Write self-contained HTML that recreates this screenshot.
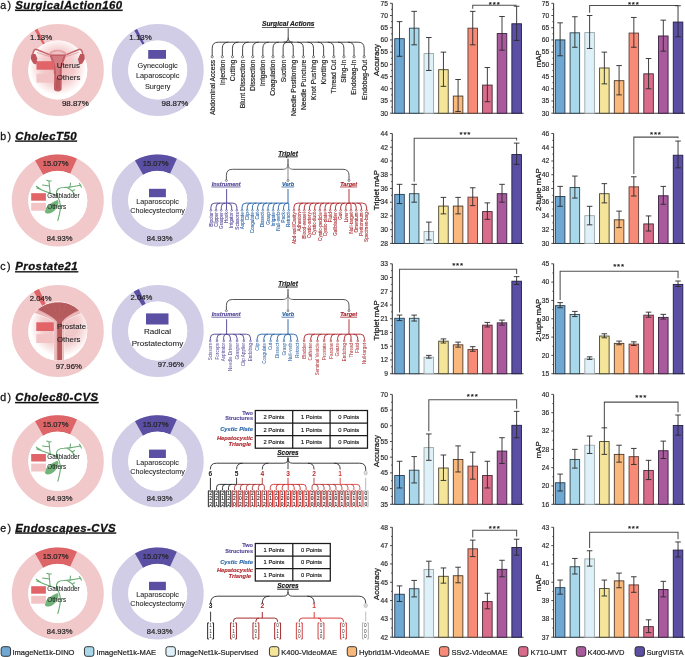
<!DOCTYPE html>
<html><head><meta charset="utf-8"><style>
html,body{margin:0;padding:0;background:#fff;width:685px;height:657px;overflow:hidden}
svg{display:block;will-change:transform;font-family:"Liberation Sans", sans-serif}
</style></head><body>
<svg width="685" height="657" viewBox="0 0 685 657">
<rect width="685" height="657" fill="#fff"/>
<text x="0.3" y="8.8" font-size="10.6" fill="#111" stroke="#111" stroke-width="0.27" letter-spacing="1.3">a)</text>
<text x="15.2" y="8.8" font-size="11.4" fill="#111" stroke="#111" stroke-width="0.29" font-weight="bold" font-style="italic" text-decoration="underline" letter-spacing="0.47">SurgicalAction160</text>
<text x="0.3" y="139.6" font-size="10.6" fill="#111" stroke="#111" stroke-width="0.27" letter-spacing="1.3">b)</text>
<text x="15.2" y="139.6" font-size="11.4" fill="#111" stroke="#111" stroke-width="0.29" font-weight="bold" font-style="italic" text-decoration="underline" letter-spacing="0.47">CholecT50</text>
<text x="0.3" y="270.2" font-size="10.6" fill="#111" stroke="#111" stroke-width="0.27" letter-spacing="1.3">c)</text>
<text x="15.2" y="270.2" font-size="11.4" fill="#111" stroke="#111" stroke-width="0.29" font-weight="bold" font-style="italic" text-decoration="underline" letter-spacing="0.47">Prostate21</text>
<text x="0.3" y="401" font-size="10.6" fill="#111" stroke="#111" stroke-width="0.27" letter-spacing="1.3">d)</text>
<text x="15.2" y="401" font-size="11.4" fill="#111" stroke="#111" stroke-width="0.29" font-weight="bold" font-style="italic" text-decoration="underline" letter-spacing="0.47">Cholec80-CVS</text>
<text x="0.3" y="531.5" font-size="10.6" fill="#111" stroke="#111" stroke-width="0.27" letter-spacing="1.3">e)</text>
<text x="15.2" y="531.5" font-size="11.4" fill="#111" stroke="#111" stroke-width="0.29" font-weight="bold" font-style="italic" text-decoration="underline" letter-spacing="0.47">Endoscapes-CVS</text>
<defs><radialGradient id="rg" cx="50%" cy="45%" r="55%"><stop offset="0" stop-color="#efb6b8"/><stop offset="0.5" stop-color="#f5cccd"/><stop offset="0.88" stop-color="#fff"/><stop offset="1" stop-color="#fff"/></radialGradient><radialGradient id="rg2" cx="55%" cy="42%" r="58%"><stop offset="0" stop-color="#eebabc"/><stop offset="0.55" stop-color="#f4cfd0"/><stop offset="0.9" stop-color="#fff"/><stop offset="1" stop-color="#fff"/></radialGradient></defs>
<circle cx="57.8" cy="70" r="37.75" fill="none" stroke="#f2c9cb" stroke-width="16.5"/>
<path d="M34.66,30.24 A46,46 0 0 1 37.49,28.73 L44.78,43.53 A29.5,29.5 0 0 0 42.96,44.5 Z" fill="#dd6568"/>
<circle cx="57.8" cy="70" r="29.5" fill="url(#rg)"/>
<g transform="translate(57.8,70)">
<path d="M-8.5,-15.2 C-13,-16.8 -18,-19.8 -21.5,-20.6 C-24,-21 -25.2,-17.5 -24.8,-13.5 M8.5,-15.2 C13,-16.8 18,-19.8 21.5,-20.6 C24,-21 25.2,-17.5 24.8,-13.5" fill="none" stroke="#c2646a" stroke-width="1.5"/>
<path d="M-8.5,-13.6 C-12,-14.4 -17,-16.4 -20.8,-17.6 M8.5,-13.6 C12,-14.4 17,-16.4 20.8,-17.6" fill="none" stroke="#d58d91" stroke-width="0.7"/>
<path d="M-26.5,-15.5 L-22.5,-16.2 L-20,-10.5 L-21.5,-5.5 L-24.5,-6.5 L-27,-11 Z M26.5,-15.5 L22.5,-16.2 L20,-10.5 L21.5,-5.5 L24.5,-6.5 L27,-11 Z" fill="#bd555b"/>
<ellipse cx="-18.4" cy="-9.9" rx="2.7" ry="1.9" fill="#e6dcdc"/><ellipse cx="18" cy="-9" rx="2.7" ry="2" fill="#e6dcdc"/>
<path d="M-9,-15.2 C-8.2,-21.8 8.2,-21.8 8.8,-15.2 Z" fill="#e4a0a4"/>
<path d="M-6.5,-15.6 C-5.8,-19.6 5.8,-19.6 6.3,-15.6 Z" fill="#eec3c5"/>
<path d="M-8.6,-15.4 L8.6,-15.4 C6.5,-10 4.6,-5.5 4,-2 L3.8,19.5 C3,22 -3,22 -3.8,19.5 L-4,-2 C-4.6,-5.5 -6.5,-10 -8.6,-15.4 Z" fill="#c25e65"/>
<path d="M-5.8,-14 L5.8,-14 C4.4,-9.5 2.8,-5.5 2.2,-2.5 L1.6,8 L-1.6,8 L-2.2,-2.5 C-2.8,-5.5 -4.4,-9.5 -5.8,-14 Z" fill="#d47c82"/>
<path d="M-1.6,8 L1.6,8 L1.8,19 L-1.8,19 Z" fill="#b9575d"/>
</g>
<rect x="36.5" y="61.2" width="17.7" height="8.5" fill="#e06468"/>
<rect x="36.5" y="73.9" width="17.7" height="8.7" fill="#f2c4c6"/>
<text x="56.7" y="67.7" font-size="7.9" fill="#222" stroke="#222" stroke-width="0.08">Uterus</text>
<text x="56.7" y="80.4" font-size="7.9" fill="#222" stroke="#222" stroke-width="0.08">Others</text>
<text x="29.9" y="40" font-size="7.9" fill="#222" stroke="#222" stroke-width="0.2">1.13%</text>
<text x="61.9" y="106.1" font-size="7.95" fill="#222" stroke="#222" stroke-width="0.2">98.87%</text>
<circle cx="157.7" cy="70" r="37.75" fill="none" stroke="#d1cde6" stroke-width="16.5"/>
<path d="M134.22,30.45 A46,46 0 0 1 137.03,28.9 L144.45,43.65 A29.5,29.5 0 0 0 142.64,44.63 Z" fill="#5a4fa3"/>
<circle cx="157.7" cy="70" r="29.5" fill="#fff"/>
<rect x="148.2" y="50" width="17.8" height="8.8" fill="#5a4fa3"/>
<text x="157.7" y="67.6" font-size="7.3" fill="#222" stroke="#222" stroke-width="0.07" text-anchor="middle">Gynecologic</text>
<text x="157.7" y="78" font-size="7.3" fill="#222" stroke="#222" stroke-width="0.07" text-anchor="middle">Laparoscopic</text>
<text x="157.7" y="88.6" font-size="7.3" fill="#222" stroke="#222" stroke-width="0.07" text-anchor="middle">Surgery</text>
<text x="129.3" y="39.6" font-size="7.9" fill="#222" stroke="#222" stroke-width="0.2">1.13%</text>
<text x="161.5" y="106.1" font-size="7.95" fill="#222" stroke="#222" stroke-width="0.2">98.87%</text>
<circle cx="57.8" cy="200.5" r="37.75" fill="none" stroke="#f2c9cb" stroke-width="16.5"/>
<path d="M35.08,160.5 A46,46 0 0 1 76.95,158.68 L70.08,173.68 A29.5,29.5 0 0 0 43.23,174.85 Z" fill="#dd6568"/>
<circle cx="57.8" cy="200.5" r="29.5" fill="#fff"/>
<g transform="translate(57.8,200.5)" fill="none" stroke="#66aa70" stroke-width="1.05" stroke-linecap="round" stroke-linejoin="round">
<path d="M0,20 C1.5,15 2.8,9 2.6,5 C2.4,1.5 1.2,-1.5 -0.5,-4.5 C-1.6,-7 -1.4,-10 0.4,-11.5 C2,-12.8 4,-13 6,-13 C9,-13.2 12,-13.4 15.7,-14.1 L22.8,-15.2"/>
<path d="M12.2,-13.3 L12.7,-17.4 M22.8,-15.2 L21.6,-17 M22.8,-15.2 L23.6,-13.2 M9.8,-12.8 C12.5,-11.5 14.8,-9.5 16.6,-6.6 M14.6,-9.6 L16.8,-10.8"/>
<path d="M-0.6,-4.6 C-3,-6 -5,-6.8 -7.5,-7.2 C-11,-8.5 -16,-10.5 -21,-12.4 M-7.5,-7.2 C-8,-10 -8.3,-14 -8.8,-19.4 M-8.8,-19.4 L-11,-20.3 M-8.8,-19.4 L-6.6,-19.6 M-8.4,-14.6 L-15.3,-15.4 M-16.5,-10.8 L-21.5,-14.2 M-19,-6 L-17.5,-4"/>
</g>
<g transform="translate(57.8,200.5)"><path d="M-0.3,-0.6 C1.4,0.4 0.8,4.5 -1.3,7.4 C-3.3,10.6 -6.8,13.2 -10,13.1 C-13.3,12.9 -13.9,10.2 -11.6,7.2 C-9,4 -5,1 -0.3,-0.6 Z" fill="#70b479"/></g>
<rect x="31.2" y="193.2" width="14.7" height="7.5" fill="#e06468"/>
<rect x="31.2" y="202.8" width="14.7" height="7.9" fill="#f2c4c6"/>
<text x="47.3" y="198.4" font-size="6.3" fill="#222" stroke="#222" stroke-width="0.06">Gallbladder</text>
<text x="47.3" y="208.6" font-size="6.3" fill="#222" stroke="#222" stroke-width="0.06">Others</text>
<text x="55.7" y="165.7" font-size="7.6" fill="#222" stroke="#222" stroke-width="0.19" text-anchor="middle">15.07%</text>
<text x="59.6" y="240.5" font-size="7.6" fill="#222" stroke="#222" stroke-width="0.19" text-anchor="middle">84.93%</text>
<circle cx="157.7" cy="200.5" r="37.75" fill="none" stroke="#d1cde6" stroke-width="16.5"/>
<path d="M134.98,160.5 A46,46 0 0 1 176.85,158.68 L169.98,173.68 A29.5,29.5 0 0 0 143.13,174.85 Z" fill="#5a4fa3"/>
<circle cx="157.7" cy="200.5" r="29.5" fill="#fff"/>
<rect x="149" y="188.8" width="16.9" height="8.4" fill="#5a4fa3"/>
<text x="157.6" y="204.2" font-size="7.2" fill="#222" stroke="#222" stroke-width="0.07" text-anchor="middle">Laparoscopic</text>
<text x="157.6" y="213" font-size="7.2" fill="#222" stroke="#222" stroke-width="0.07" text-anchor="middle">Cholecystectomy</text>
<text x="155.7" y="165.7" font-size="7.6" fill="#222" stroke="#222" stroke-width="0.19" text-anchor="middle">15.07%</text>
<text x="159.6" y="240.5" font-size="7.6" fill="#222" stroke="#222" stroke-width="0.19" text-anchor="middle">84.93%</text>
<circle cx="57.8" cy="461.3" r="37.75" fill="none" stroke="#f2c9cb" stroke-width="16.5"/>
<path d="M35.08,421.3 A46,46 0 0 1 76.95,419.48 L70.08,434.48 A29.5,29.5 0 0 0 43.23,435.65 Z" fill="#dd6568"/>
<circle cx="57.8" cy="461.3" r="29.5" fill="#fff"/>
<g transform="translate(57.8,461.3)" fill="none" stroke="#66aa70" stroke-width="1.05" stroke-linecap="round" stroke-linejoin="round">
<path d="M0,20 C1.5,15 2.8,9 2.6,5 C2.4,1.5 1.2,-1.5 -0.5,-4.5 C-1.6,-7 -1.4,-10 0.4,-11.5 C2,-12.8 4,-13 6,-13 C9,-13.2 12,-13.4 15.7,-14.1 L22.8,-15.2"/>
<path d="M12.2,-13.3 L12.7,-17.4 M22.8,-15.2 L21.6,-17 M22.8,-15.2 L23.6,-13.2 M9.8,-12.8 C12.5,-11.5 14.8,-9.5 16.6,-6.6 M14.6,-9.6 L16.8,-10.8"/>
<path d="M-0.6,-4.6 C-3,-6 -5,-6.8 -7.5,-7.2 C-11,-8.5 -16,-10.5 -21,-12.4 M-7.5,-7.2 C-8,-10 -8.3,-14 -8.8,-19.4 M-8.8,-19.4 L-11,-20.3 M-8.8,-19.4 L-6.6,-19.6 M-8.4,-14.6 L-15.3,-15.4 M-16.5,-10.8 L-21.5,-14.2 M-19,-6 L-17.5,-4"/>
</g>
<g transform="translate(57.8,461.3)"><path d="M-0.3,-0.6 C1.4,0.4 0.8,4.5 -1.3,7.4 C-3.3,10.6 -6.8,13.2 -10,13.1 C-13.3,12.9 -13.9,10.2 -11.6,7.2 C-9,4 -5,1 -0.3,-0.6 Z" fill="#70b479"/></g>
<rect x="31.2" y="454" width="14.7" height="7.5" fill="#e06468"/>
<rect x="31.2" y="463.6" width="14.7" height="7.9" fill="#f2c4c6"/>
<text x="47.3" y="459.2" font-size="6.3" fill="#222" stroke="#222" stroke-width="0.06">Gallbladder</text>
<text x="47.3" y="469.4" font-size="6.3" fill="#222" stroke="#222" stroke-width="0.06">Others</text>
<text x="55.7" y="426.5" font-size="7.6" fill="#222" stroke="#222" stroke-width="0.19" text-anchor="middle">15.07%</text>
<text x="59.6" y="501.3" font-size="7.6" fill="#222" stroke="#222" stroke-width="0.19" text-anchor="middle">84.93%</text>
<circle cx="157.7" cy="461.3" r="37.75" fill="none" stroke="#d1cde6" stroke-width="16.5"/>
<path d="M134.98,421.3 A46,46 0 0 1 176.85,419.48 L169.98,434.48 A29.5,29.5 0 0 0 143.13,435.65 Z" fill="#5a4fa3"/>
<circle cx="157.7" cy="461.3" r="29.5" fill="#fff"/>
<rect x="149" y="449.6" width="16.9" height="8.4" fill="#5a4fa3"/>
<text x="157.6" y="465" font-size="7.2" fill="#222" stroke="#222" stroke-width="0.07" text-anchor="middle">Laparoscopic</text>
<text x="157.6" y="473.8" font-size="7.2" fill="#222" stroke="#222" stroke-width="0.07" text-anchor="middle">Cholecystectomy</text>
<text x="155.7" y="426.5" font-size="7.6" fill="#222" stroke="#222" stroke-width="0.19" text-anchor="middle">15.07%</text>
<text x="159.6" y="501.3" font-size="7.6" fill="#222" stroke="#222" stroke-width="0.19" text-anchor="middle">84.93%</text>
<circle cx="57.8" cy="593.5" r="37.75" fill="none" stroke="#f2c9cb" stroke-width="16.5"/>
<path d="M35.08,553.5 A46,46 0 0 1 76.95,551.68 L70.08,566.68 A29.5,29.5 0 0 0 43.23,567.85 Z" fill="#dd6568"/>
<circle cx="57.8" cy="593.5" r="29.5" fill="#fff"/>
<g transform="translate(57.8,593.5)" fill="none" stroke="#66aa70" stroke-width="1.05" stroke-linecap="round" stroke-linejoin="round">
<path d="M0,20 C1.5,15 2.8,9 2.6,5 C2.4,1.5 1.2,-1.5 -0.5,-4.5 C-1.6,-7 -1.4,-10 0.4,-11.5 C2,-12.8 4,-13 6,-13 C9,-13.2 12,-13.4 15.7,-14.1 L22.8,-15.2"/>
<path d="M12.2,-13.3 L12.7,-17.4 M22.8,-15.2 L21.6,-17 M22.8,-15.2 L23.6,-13.2 M9.8,-12.8 C12.5,-11.5 14.8,-9.5 16.6,-6.6 M14.6,-9.6 L16.8,-10.8"/>
<path d="M-0.6,-4.6 C-3,-6 -5,-6.8 -7.5,-7.2 C-11,-8.5 -16,-10.5 -21,-12.4 M-7.5,-7.2 C-8,-10 -8.3,-14 -8.8,-19.4 M-8.8,-19.4 L-11,-20.3 M-8.8,-19.4 L-6.6,-19.6 M-8.4,-14.6 L-15.3,-15.4 M-16.5,-10.8 L-21.5,-14.2 M-19,-6 L-17.5,-4"/>
</g>
<g transform="translate(57.8,593.5)"><path d="M-0.3,-0.6 C1.4,0.4 0.8,4.5 -1.3,7.4 C-3.3,10.6 -6.8,13.2 -10,13.1 C-13.3,12.9 -13.9,10.2 -11.6,7.2 C-9,4 -5,1 -0.3,-0.6 Z" fill="#70b479"/></g>
<rect x="31.2" y="586.2" width="14.7" height="7.5" fill="#e06468"/>
<rect x="31.2" y="595.8" width="14.7" height="7.9" fill="#f2c4c6"/>
<text x="47.3" y="591.4" font-size="6.3" fill="#222" stroke="#222" stroke-width="0.06">Gallbladder</text>
<text x="47.3" y="601.6" font-size="6.3" fill="#222" stroke="#222" stroke-width="0.06">Others</text>
<text x="55.7" y="558.7" font-size="7.6" fill="#222" stroke="#222" stroke-width="0.19" text-anchor="middle">15.07%</text>
<text x="59.6" y="633.5" font-size="7.6" fill="#222" stroke="#222" stroke-width="0.19" text-anchor="middle">84.93%</text>
<circle cx="157.7" cy="593.5" r="37.75" fill="none" stroke="#d1cde6" stroke-width="16.5"/>
<path d="M134.98,553.5 A46,46 0 0 1 176.85,551.68 L169.98,566.68 A29.5,29.5 0 0 0 143.13,567.85 Z" fill="#5a4fa3"/>
<circle cx="157.7" cy="593.5" r="29.5" fill="#fff"/>
<rect x="149" y="581.8" width="16.9" height="8.4" fill="#5a4fa3"/>
<text x="157.6" y="597.2" font-size="7.2" fill="#222" stroke="#222" stroke-width="0.07" text-anchor="middle">Laparoscopic</text>
<text x="157.6" y="606" font-size="7.2" fill="#222" stroke="#222" stroke-width="0.07" text-anchor="middle">Cholecystectomy</text>
<text x="155.7" y="558.7" font-size="7.6" fill="#222" stroke="#222" stroke-width="0.19" text-anchor="middle">15.07%</text>
<text x="159.6" y="633.5" font-size="7.6" fill="#222" stroke="#222" stroke-width="0.19" text-anchor="middle">84.93%</text>
<circle cx="57.8" cy="331" r="37.75" fill="none" stroke="#f2c9cb" stroke-width="16.5"/>
<path d="M33.77,291.78 A46,46 0 0 1 38.94,289.04 L45.71,304.09 A29.5,29.5 0 0 0 42.39,305.85 Z" fill="#dd6568"/>
<circle cx="57.8" cy="331" r="29.5" fill="url(#rg2)"/>
<clipPath id="pc"><circle cx="57.8" cy="331" r="29.3"/></clipPath>
<g clip-path="url(#pc)"><g transform="translate(57.8,331)">
<circle cx="12.6" cy="-1.5" r="6.2" fill="#f2cfd0"/><circle cx="12.6" cy="-1.5" r="6.2" fill="none" stroke="#e8b4b6" stroke-width="0.5"/><circle cx="12.6" cy="-1.5" r="4" fill="none" stroke="#e8b4b6" stroke-width="0.45"/><circle cx="12.6" cy="-1.5" r="2" fill="none" stroke="#e8b4b6" stroke-width="0.4"/>
<path d="M-23.8,-18.2 L-19.8,-21.6 C-10,-31 12,-31 21.6,-20.9 L25,-18.2 C16,-14.5 9,-12 6.3,-8.7 L6.3,32 L-3.8,32 L-3.8,-8.7 C-6.5,-12 -14,-14.5 -23.8,-18.2 Z" fill="#e7a9ab"/>
<path d="M-23.8,-18.2 C-14,-14.5 -6.5,-12 -3.8,-8.7 L-3.8,32 M25,-18.2 C16,-14.5 9,-12 6.3,-8.7 L6.3,32" fill="none" stroke="#fff" stroke-width="0.6"/>
<path d="M-21.5,-19.8 C-12.5,-15.8 -5.5,-12.5 -2,-9 L-2,32 M23,-19.6 C14.5,-15.8 7.5,-12.5 4.6,-9 L4.6,32" fill="none" stroke="#f8e2e2" stroke-width="0.5"/>
<path d="M-19.8,-21.6 C-10,-31 12,-31 21.6,-20.9 C14,-17.5 8,-14 4.2,-9.3 L4.2,32 L-0.5,32 L-0.6,-9.3 C-4,-14 -11,-17.5 -19.8,-21.6 Z" fill="#b45a5c"/>
<path d="M-13,-26.5 C-7,-20 -3,-14 0.6,-9.5 M-6,-29.3 C-3,-22 -0.5,-15 1.2,-9.5 M2,-30 C2,-22 1.8,-15 1.8,-9.5 M9,-29 C7,-22 4,-15 2.4,-9.5 M16,-26 C11,-20 6.5,-14 3,-9.5" stroke="#c36a6c" stroke-width="0.45" fill="none"/>
</g></g>
<rect x="36.3" y="322.3" width="17.5" height="8.7" fill="#e06468"/>
<rect x="36.3" y="334.2" width="17.5" height="8.8" fill="#f2c4c6"/>
<text x="57" y="328.8" font-size="7.84" fill="#222" stroke="#222" stroke-width="0.08">Prostate</text>
<text x="57" y="341.6" font-size="7.84" fill="#222" stroke="#222" stroke-width="0.08">Others</text>
<text x="29.8" y="301.3" font-size="7.7" fill="#222" stroke="#222" stroke-width="0.19">2.04%</text>
<text x="55.7" y="368.7" font-size="7.7" fill="#222" stroke="#222" stroke-width="0.19">97.96%</text>
<circle cx="157.7" cy="331" r="37.75" fill="none" stroke="#d1cde6" stroke-width="16.5"/>
<path d="M133.67,291.78 A46,46 0 0 1 138.84,289.04 L145.61,304.09 A29.5,29.5 0 0 0 142.29,305.85 Z" fill="#5a4fa3"/>
<circle cx="157.7" cy="331" r="29.5" fill="#fff"/>
<rect x="146" y="313.4" width="22.5" height="11.1" fill="#5a4fa3"/>
<text x="157.5" y="333.8" font-size="8.1" fill="#222" stroke="#222" stroke-width="0.08" text-anchor="middle">Radical</text>
<text x="157.5" y="345.8" font-size="8.1" fill="#222" stroke="#222" stroke-width="0.08" text-anchor="middle">Prostatectomy</text>
<text x="130.5" y="300.2" font-size="7.7" fill="#222" stroke="#222" stroke-width="0.19">2.04%</text>
<text x="157.7" y="366.8" font-size="7.7" fill="#222" stroke="#222" stroke-width="0.19">97.96%</text>
<text x="288.2" y="26.2" font-size="6.7" fill="#222" stroke="#222" stroke-width="0.17" text-anchor="middle" font-weight="bold" font-style="italic" text-decoration="underline">Surgical Actions</text>
<path d="M288.2,28.3 L288.2,37.7 Q288.2,42.2 283.7,42.2 M288.2,37.7 Q288.2,42.2 292.7,42.2" stroke="#333" stroke-width="0.9" fill="none"/>
<path d="M218.2,42.2 L358.15,42.2" stroke="#333" stroke-width="0.9" fill="none"/>
<path d="M218.2,42.2 Q212.2,42.2 212.2,48.2 L212.2,56" stroke="#333" stroke-width="0.9" fill="none"/>
<circle cx="212.2" cy="56.8" r="1.1" fill="#fff" stroke="#333" stroke-width="0.6"/>
<path d="M228.33,42.2 Q222.33,42.2 222.33,48.2 L222.33,56" stroke="#333" stroke-width="0.9" fill="none"/>
<circle cx="222.33" cy="56.8" r="1.1" fill="#fff" stroke="#333" stroke-width="0.6"/>
<path d="M238.46,42.2 Q232.46,42.2 232.46,48.2 L232.46,56" stroke="#333" stroke-width="0.9" fill="none"/>
<circle cx="232.46" cy="56.8" r="1.1" fill="#fff" stroke="#333" stroke-width="0.6"/>
<path d="M248.59,42.2 Q242.59,42.2 242.59,48.2 L242.59,56" stroke="#333" stroke-width="0.9" fill="none"/>
<circle cx="242.59" cy="56.8" r="1.1" fill="#fff" stroke="#333" stroke-width="0.6"/>
<path d="M258.72,42.2 Q252.72,42.2 252.72,48.2 L252.72,56" stroke="#333" stroke-width="0.9" fill="none"/>
<circle cx="252.72" cy="56.8" r="1.1" fill="#fff" stroke="#333" stroke-width="0.6"/>
<path d="M268.85,42.2 Q262.85,42.2 262.85,48.2 L262.85,56" stroke="#333" stroke-width="0.9" fill="none"/>
<circle cx="262.85" cy="56.8" r="1.1" fill="#fff" stroke="#333" stroke-width="0.6"/>
<path d="M278.98,42.2 Q272.98,42.2 272.98,48.2 L272.98,56" stroke="#333" stroke-width="0.9" fill="none"/>
<circle cx="272.98" cy="56.8" r="1.1" fill="#fff" stroke="#333" stroke-width="0.6"/>
<path d="M288.2,42.2 Q283.11,42.2 283.11,47.29 L283.11,56" stroke="#333" stroke-width="0.9" fill="none"/>
<circle cx="283.11" cy="56.8" r="1.1" fill="#fff" stroke="#333" stroke-width="0.6"/>
<path d="M288.2,42.2 Q293.24,42.2 293.24,47.24 L293.24,56" stroke="#333" stroke-width="0.9" fill="none"/>
<circle cx="293.24" cy="56.8" r="1.1" fill="#fff" stroke="#333" stroke-width="0.6"/>
<path d="M297.37,42.2 Q303.37,42.2 303.37,48.2 L303.37,56" stroke="#333" stroke-width="0.9" fill="none"/>
<circle cx="303.37" cy="56.8" r="1.1" fill="#fff" stroke="#333" stroke-width="0.6"/>
<path d="M307.5,42.2 Q313.5,42.2 313.5,48.2 L313.5,56" stroke="#333" stroke-width="0.9" fill="none"/>
<circle cx="313.5" cy="56.8" r="1.1" fill="#fff" stroke="#333" stroke-width="0.6"/>
<path d="M317.63,42.2 Q323.63,42.2 323.63,48.2 L323.63,56" stroke="#333" stroke-width="0.9" fill="none"/>
<circle cx="323.63" cy="56.8" r="1.1" fill="#fff" stroke="#333" stroke-width="0.6"/>
<path d="M327.76,42.2 Q333.76,42.2 333.76,48.2 L333.76,56" stroke="#333" stroke-width="0.9" fill="none"/>
<circle cx="333.76" cy="56.8" r="1.1" fill="#fff" stroke="#333" stroke-width="0.6"/>
<path d="M337.89,42.2 Q343.89,42.2 343.89,48.2 L343.89,56" stroke="#333" stroke-width="0.9" fill="none"/>
<circle cx="343.89" cy="56.8" r="1.1" fill="#fff" stroke="#333" stroke-width="0.6"/>
<path d="M348.02,42.2 Q354.02,42.2 354.02,48.2 L354.02,56" stroke="#333" stroke-width="0.9" fill="none"/>
<circle cx="354.02" cy="56.8" r="1.1" fill="#fff" stroke="#333" stroke-width="0.6"/>
<path d="M358.15,42.2 Q364.15,42.2 364.15,48.2 L364.15,56" stroke="#333" stroke-width="0.9" fill="none"/>
<circle cx="364.15" cy="56.8" r="1.1" fill="#fff" stroke="#333" stroke-width="0.6"/>
<text transform="translate(214.63,59.8) rotate(-90)" font-size="6.75" fill="#222" stroke="#222" stroke-width="0.17" text-anchor="end">Abdominal Access</text>
<text transform="translate(224.76,59.8) rotate(-90)" font-size="6.75" fill="#222" stroke="#222" stroke-width="0.17" text-anchor="end">Injection</text>
<text transform="translate(234.89,59.8) rotate(-90)" font-size="6.75" fill="#222" stroke="#222" stroke-width="0.17" text-anchor="end">Cutting</text>
<text transform="translate(245.02,59.8) rotate(-90)" font-size="6.75" fill="#222" stroke="#222" stroke-width="0.17" text-anchor="end">Blunt Dissection</text>
<text transform="translate(255.15,59.8) rotate(-90)" font-size="6.75" fill="#222" stroke="#222" stroke-width="0.17" text-anchor="end">Dissection</text>
<text transform="translate(265.28,59.8) rotate(-90)" font-size="6.75" fill="#222" stroke="#222" stroke-width="0.17" text-anchor="end">Irrigation</text>
<text transform="translate(275.41,59.8) rotate(-90)" font-size="6.75" fill="#222" stroke="#222" stroke-width="0.17" text-anchor="end">Coagulation</text>
<text transform="translate(285.54,59.8) rotate(-90)" font-size="6.75" fill="#222" stroke="#222" stroke-width="0.17" text-anchor="end">Suction</text>
<text transform="translate(295.67,59.8) rotate(-90)" font-size="6.75" fill="#222" stroke="#222" stroke-width="0.17" text-anchor="end">Needle Positioning</text>
<text transform="translate(305.8,59.8) rotate(-90)" font-size="6.75" fill="#222" stroke="#222" stroke-width="0.17" text-anchor="end">Needle Puncture</text>
<text transform="translate(315.93,59.8) rotate(-90)" font-size="6.75" fill="#222" stroke="#222" stroke-width="0.17" text-anchor="end">Knot Pushing</text>
<text transform="translate(326.06,59.8) rotate(-90)" font-size="6.75" fill="#222" stroke="#222" stroke-width="0.17" text-anchor="end">Knotting</text>
<text transform="translate(336.19,59.8) rotate(-90)" font-size="6.75" fill="#222" stroke="#222" stroke-width="0.17" text-anchor="end">Thread Cut</text>
<text transform="translate(346.32,59.8) rotate(-90)" font-size="6.75" fill="#222" stroke="#222" stroke-width="0.17" text-anchor="end">Sling-In</text>
<text transform="translate(356.45,59.8) rotate(-90)" font-size="6.75" fill="#222" stroke="#222" stroke-width="0.17" text-anchor="end">Endobag-In</text>
<text transform="translate(366.58,59.8) rotate(-90)" font-size="6.75" fill="#222" stroke="#222" stroke-width="0.17" text-anchor="end">Endobag-Out</text>
<text x="288" y="155.5" font-size="6.45" fill="#222" stroke="#222" stroke-width="0.16" text-anchor="middle" font-weight="bold" font-style="italic" text-decoration="underline">Triplet</text>
<path d="M288,158.7 L288,180.5" stroke="#9a9a9a" stroke-width="1.2" fill="none"/>
<path d="M288,158.7 L288,164.3 Q288,169.3 283,169.3 M288,164.3 Q288,169.3 293,169.3" stroke="#666" stroke-width="0.9" fill="none"/>
<path d="M232.4,169.3 L283,169.3" stroke="#444" stroke-width="0.9" fill="none"/>
<path d="M293,169.3 L343,169.3" stroke="#444" stroke-width="0.9" fill="none"/>
<path d="M232.4,169.3 Q226.4,169.3 226.4,175.3 L226.4,180.5" stroke="#444" stroke-width="0.9" fill="none"/>
<path d="M343,169.3 Q349,169.3 349,175.3 L349,180.5" stroke="#444" stroke-width="0.9" fill="none"/>
<circle cx="226.4" cy="180.5" r="1.0" fill="#fff" stroke="#444" stroke-width="0.6"/>
<circle cx="288" cy="180.5" r="1.0" fill="#fff" stroke="#444" stroke-width="0.6"/>
<circle cx="349" cy="180.5" r="1.0" fill="#fff" stroke="#444" stroke-width="0.6"/>
<text x="226.2" y="185.7" font-size="5.6" fill="#4e3f92" stroke="#4e3f92" stroke-width="0.14" text-anchor="middle" font-weight="bold" font-style="italic" text-decoration="underline">Instrument</text>
<text x="288" y="185.7" font-size="5.6" fill="#2560a5" stroke="#2560a5" stroke-width="0.14" text-anchor="middle" font-weight="bold" font-style="italic" text-decoration="underline">Verb</text>
<text x="348.6" y="185.7" font-size="5.6" fill="#a82228" stroke="#a82228" stroke-width="0.14" text-anchor="middle" font-weight="bold" font-style="italic" text-decoration="underline">Target</text>
<path d="M226.6,189 L226.6,203.1" stroke="#4e3f92" stroke-width="0.9" fill="none"/>
<path d="M214.9,203.1 L232.85,203.1" stroke="#4e3f92" stroke-width="0.9" fill="none"/>
<path d="M214.9,203.1 Q210.9,203.1 210.9,207.1 L210.9,210.4" stroke="#4e3f92" stroke-width="0.9" fill="none"/>
<circle cx="210.9" cy="210.4" r="0.9" fill="#fff" stroke="#4e3f92" stroke-width="0.6"/>
<path d="M220.09,203.1 Q216.09,203.1 216.09,207.1 L216.09,210.4" stroke="#4e3f92" stroke-width="0.9" fill="none"/>
<circle cx="216.09" cy="210.4" r="0.9" fill="#fff" stroke="#4e3f92" stroke-width="0.6"/>
<path d="M225.28,203.1 Q221.28,203.1 221.28,207.1 L221.28,210.4" stroke="#4e3f92" stroke-width="0.9" fill="none"/>
<circle cx="221.28" cy="210.4" r="0.9" fill="#fff" stroke="#4e3f92" stroke-width="0.6"/>
<path d="M226.47,203.1 L226.47,210.4" stroke="#4e3f92" stroke-width="0.9" fill="none"/>
<circle cx="226.47" cy="210.4" r="0.9" fill="#fff" stroke="#4e3f92" stroke-width="0.6"/>
<path d="M227.66,203.1 Q231.66,203.1 231.66,207.1 L231.66,210.4" stroke="#4e3f92" stroke-width="0.9" fill="none"/>
<circle cx="231.66" cy="210.4" r="0.9" fill="#fff" stroke="#4e3f92" stroke-width="0.6"/>
<path d="M232.85,203.1 Q236.85,203.1 236.85,207.1 L236.85,210.4" stroke="#4e3f92" stroke-width="0.9" fill="none"/>
<circle cx="236.85" cy="210.4" r="0.9" fill="#fff" stroke="#4e3f92" stroke-width="0.6"/>
<text transform="translate(212.56,212.3) rotate(-90)" font-size="4.6" fill="#4e3f92" stroke="#4e3f92" stroke-width="0.09" text-anchor="end">Bipolar</text>
<text transform="translate(217.75,212.3) rotate(-90)" font-size="4.6" fill="#4e3f92" stroke="#4e3f92" stroke-width="0.09" text-anchor="end">Clipper</text>
<text transform="translate(222.94,212.3) rotate(-90)" font-size="4.6" fill="#4e3f92" stroke="#4e3f92" stroke-width="0.09" text-anchor="end">Grasper</text>
<text transform="translate(228.13,212.3) rotate(-90)" font-size="4.6" fill="#4e3f92" stroke="#4e3f92" stroke-width="0.09" text-anchor="end">Hook</text>
<text transform="translate(233.32,212.3) rotate(-90)" font-size="4.6" fill="#4e3f92" stroke="#4e3f92" stroke-width="0.09" text-anchor="end">Irrigator</text>
<text transform="translate(238.51,212.3) rotate(-90)" font-size="4.6" fill="#4e3f92" stroke="#4e3f92" stroke-width="0.09" text-anchor="end">Scissors</text>
<path d="M288,189 L288,203.1" stroke="#2560a5" stroke-width="0.9" fill="none"/>
<path d="M246.04,203.1 L288,203.1" stroke="#2560a5" stroke-width="0.9" fill="none"/>
<path d="M246.04,203.1 Q242.04,203.1 242.04,207.1 L242.04,210.4" stroke="#2560a5" stroke-width="0.9" fill="none"/>
<circle cx="242.04" cy="210.4" r="0.9" fill="#fff" stroke="#2560a5" stroke-width="0.6"/>
<path d="M251.23,203.1 Q247.23,203.1 247.23,207.1 L247.23,210.4" stroke="#2560a5" stroke-width="0.9" fill="none"/>
<circle cx="247.23" cy="210.4" r="0.9" fill="#fff" stroke="#2560a5" stroke-width="0.6"/>
<path d="M256.42,203.1 Q252.42,203.1 252.42,207.1 L252.42,210.4" stroke="#2560a5" stroke-width="0.9" fill="none"/>
<circle cx="252.42" cy="210.4" r="0.9" fill="#fff" stroke="#2560a5" stroke-width="0.6"/>
<path d="M261.61,203.1 Q257.61,203.1 257.61,207.1 L257.61,210.4" stroke="#2560a5" stroke-width="0.9" fill="none"/>
<circle cx="257.61" cy="210.4" r="0.9" fill="#fff" stroke="#2560a5" stroke-width="0.6"/>
<path d="M266.8,203.1 Q262.8,203.1 262.8,207.1 L262.8,210.4" stroke="#2560a5" stroke-width="0.9" fill="none"/>
<circle cx="262.8" cy="210.4" r="0.9" fill="#fff" stroke="#2560a5" stroke-width="0.6"/>
<path d="M271.99,203.1 Q267.99,203.1 267.99,207.1 L267.99,210.4" stroke="#2560a5" stroke-width="0.9" fill="none"/>
<circle cx="267.99" cy="210.4" r="0.9" fill="#fff" stroke="#2560a5" stroke-width="0.6"/>
<path d="M277.18,203.1 Q273.18,203.1 273.18,207.1 L273.18,210.4" stroke="#2560a5" stroke-width="0.9" fill="none"/>
<circle cx="273.18" cy="210.4" r="0.9" fill="#fff" stroke="#2560a5" stroke-width="0.6"/>
<path d="M282.37,203.1 Q278.37,203.1 278.37,207.1 L278.37,210.4" stroke="#2560a5" stroke-width="0.9" fill="none"/>
<circle cx="278.37" cy="210.4" r="0.9" fill="#fff" stroke="#2560a5" stroke-width="0.6"/>
<path d="M287.56,203.1 Q283.56,203.1 283.56,207.1 L283.56,210.4" stroke="#2560a5" stroke-width="0.9" fill="none"/>
<circle cx="283.56" cy="210.4" r="0.9" fill="#fff" stroke="#2560a5" stroke-width="0.6"/>
<path d="M288,203.1 Q288.75,203.1 288.75,203.85 L288.75,210.4" stroke="#2560a5" stroke-width="0.9" fill="none"/>
<circle cx="288.75" cy="210.4" r="0.9" fill="#fff" stroke="#2560a5" stroke-width="0.6"/>
<text transform="translate(243.7,212.3) rotate(-90)" font-size="4.6" fill="#2560a5" stroke="#2560a5" stroke-width="0.09" text-anchor="end">Aspirate</text>
<text transform="translate(248.89,212.3) rotate(-90)" font-size="4.6" fill="#2560a5" stroke="#2560a5" stroke-width="0.09" text-anchor="end">Clip</text>
<text transform="translate(254.08,212.3) rotate(-90)" font-size="4.6" fill="#2560a5" stroke="#2560a5" stroke-width="0.09" text-anchor="end">Coagulate</text>
<text transform="translate(259.27,212.3) rotate(-90)" font-size="4.6" fill="#2560a5" stroke="#2560a5" stroke-width="0.09" text-anchor="end">Cut</text>
<text transform="translate(264.46,212.3) rotate(-90)" font-size="4.6" fill="#2560a5" stroke="#2560a5" stroke-width="0.09" text-anchor="end">Dissect</text>
<text transform="translate(269.65,212.3) rotate(-90)" font-size="4.6" fill="#2560a5" stroke="#2560a5" stroke-width="0.09" text-anchor="end">Grasp</text>
<text transform="translate(274.84,212.3) rotate(-90)" font-size="4.6" fill="#2560a5" stroke="#2560a5" stroke-width="0.09" text-anchor="end">Irrigate</text>
<text transform="translate(280.03,212.3) rotate(-90)" font-size="4.6" fill="#2560a5" stroke="#2560a5" stroke-width="0.09" text-anchor="end">Null-verb</text>
<text transform="translate(285.22,212.3) rotate(-90)" font-size="4.6" fill="#2560a5" stroke="#2560a5" stroke-width="0.09" text-anchor="end">Pack</text>
<text transform="translate(290.41,212.3) rotate(-90)" font-size="4.6" fill="#2560a5" stroke="#2560a5" stroke-width="0.09" text-anchor="end">Retract</text>
<path d="M349,189 L349,203.1" stroke="#a82228" stroke-width="0.9" fill="none"/>
<path d="M297.94,203.1 L362.6,203.1" stroke="#a82228" stroke-width="0.9" fill="none"/>
<path d="M297.94,203.1 Q293.94,203.1 293.94,207.1 L293.94,210.4" stroke="#a82228" stroke-width="0.9" fill="none"/>
<circle cx="293.94" cy="210.4" r="0.9" fill="#fff" stroke="#a82228" stroke-width="0.6"/>
<path d="M303.13,203.1 Q299.13,203.1 299.13,207.1 L299.13,210.4" stroke="#a82228" stroke-width="0.9" fill="none"/>
<circle cx="299.13" cy="210.4" r="0.9" fill="#fff" stroke="#a82228" stroke-width="0.6"/>
<path d="M308.32,203.1 Q304.32,203.1 304.32,207.1 L304.32,210.4" stroke="#a82228" stroke-width="0.9" fill="none"/>
<circle cx="304.32" cy="210.4" r="0.9" fill="#fff" stroke="#a82228" stroke-width="0.6"/>
<path d="M313.51,203.1 Q309.51,203.1 309.51,207.1 L309.51,210.4" stroke="#a82228" stroke-width="0.9" fill="none"/>
<circle cx="309.51" cy="210.4" r="0.9" fill="#fff" stroke="#a82228" stroke-width="0.6"/>
<path d="M318.7,203.1 Q314.7,203.1 314.7,207.1 L314.7,210.4" stroke="#a82228" stroke-width="0.9" fill="none"/>
<circle cx="314.7" cy="210.4" r="0.9" fill="#fff" stroke="#a82228" stroke-width="0.6"/>
<path d="M323.89,203.1 Q319.89,203.1 319.89,207.1 L319.89,210.4" stroke="#a82228" stroke-width="0.9" fill="none"/>
<circle cx="319.89" cy="210.4" r="0.9" fill="#fff" stroke="#a82228" stroke-width="0.6"/>
<path d="M329.08,203.1 Q325.08,203.1 325.08,207.1 L325.08,210.4" stroke="#a82228" stroke-width="0.9" fill="none"/>
<circle cx="325.08" cy="210.4" r="0.9" fill="#fff" stroke="#a82228" stroke-width="0.6"/>
<path d="M334.27,203.1 Q330.27,203.1 330.27,207.1 L330.27,210.4" stroke="#a82228" stroke-width="0.9" fill="none"/>
<circle cx="330.27" cy="210.4" r="0.9" fill="#fff" stroke="#a82228" stroke-width="0.6"/>
<path d="M339.46,203.1 Q335.46,203.1 335.46,207.1 L335.46,210.4" stroke="#a82228" stroke-width="0.9" fill="none"/>
<circle cx="335.46" cy="210.4" r="0.9" fill="#fff" stroke="#a82228" stroke-width="0.6"/>
<path d="M344.65,203.1 Q340.65,203.1 340.65,207.1 L340.65,210.4" stroke="#a82228" stroke-width="0.9" fill="none"/>
<circle cx="340.65" cy="210.4" r="0.9" fill="#fff" stroke="#a82228" stroke-width="0.6"/>
<path d="M349,203.1 Q345.84,203.1 345.84,206.26 L345.84,210.4" stroke="#a82228" stroke-width="0.9" fill="none"/>
<circle cx="345.84" cy="210.4" r="0.9" fill="#fff" stroke="#a82228" stroke-width="0.6"/>
<path d="M349,203.1 Q351.03,203.1 351.03,205.13 L351.03,210.4" stroke="#a82228" stroke-width="0.9" fill="none"/>
<circle cx="351.03" cy="210.4" r="0.9" fill="#fff" stroke="#a82228" stroke-width="0.6"/>
<path d="M352.22,203.1 Q356.22,203.1 356.22,207.1 L356.22,210.4" stroke="#a82228" stroke-width="0.9" fill="none"/>
<circle cx="356.22" cy="210.4" r="0.9" fill="#fff" stroke="#a82228" stroke-width="0.6"/>
<path d="M357.41,203.1 Q361.41,203.1 361.41,207.1 L361.41,210.4" stroke="#a82228" stroke-width="0.9" fill="none"/>
<circle cx="361.41" cy="210.4" r="0.9" fill="#fff" stroke="#a82228" stroke-width="0.6"/>
<path d="M362.6,203.1 Q366.6,203.1 366.6,207.1 L366.6,210.4" stroke="#a82228" stroke-width="0.9" fill="none"/>
<circle cx="366.6" cy="210.4" r="0.9" fill="#fff" stroke="#a82228" stroke-width="0.6"/>
<text transform="translate(295.6,212.3) rotate(-90)" font-size="4.6" fill="#a82228" stroke="#a82228" stroke-width="0.09" text-anchor="end">Abd-wall/Cavity</text>
<text transform="translate(300.79,212.3) rotate(-90)" font-size="4.6" fill="#a82228" stroke="#a82228" stroke-width="0.09" text-anchor="end">Adhesion</text>
<text transform="translate(305.98,212.3) rotate(-90)" font-size="4.6" fill="#a82228" stroke="#a82228" stroke-width="0.09" text-anchor="end">Blood-vessel</text>
<text transform="translate(311.17,212.3) rotate(-90)" font-size="4.6" fill="#a82228" stroke="#a82228" stroke-width="0.09" text-anchor="end">Cystic-artery</text>
<text transform="translate(316.36,212.3) rotate(-90)" font-size="4.6" fill="#a82228" stroke="#a82228" stroke-width="0.09" text-anchor="end">Cystic-duct</text>
<text transform="translate(321.55,212.3) rotate(-90)" font-size="4.6" fill="#a82228" stroke="#a82228" stroke-width="0.09" text-anchor="end">Cystic-pedicle</text>
<text transform="translate(326.74,212.3) rotate(-90)" font-size="4.6" fill="#a82228" stroke="#a82228" stroke-width="0.09" text-anchor="end">Cystic-plate</text>
<text transform="translate(331.93,212.3) rotate(-90)" font-size="4.6" fill="#a82228" stroke="#a82228" stroke-width="0.09" text-anchor="end">Fluid</text>
<text transform="translate(337.12,212.3) rotate(-90)" font-size="4.6" fill="#a82228" stroke="#a82228" stroke-width="0.09" text-anchor="end">Gallbladder</text>
<text transform="translate(342.31,212.3) rotate(-90)" font-size="4.6" fill="#a82228" stroke="#a82228" stroke-width="0.09" text-anchor="end">Gut</text>
<text transform="translate(347.5,212.3) rotate(-90)" font-size="4.6" fill="#a82228" stroke="#a82228" stroke-width="0.09" text-anchor="end">Liver</text>
<text transform="translate(352.69,212.3) rotate(-90)" font-size="4.6" fill="#a82228" stroke="#a82228" stroke-width="0.09" text-anchor="end">Null-target</text>
<text transform="translate(357.88,212.3) rotate(-90)" font-size="4.6" fill="#a82228" stroke="#a82228" stroke-width="0.09" text-anchor="end">Omentum</text>
<text transform="translate(363.07,212.3) rotate(-90)" font-size="4.6" fill="#a82228" stroke="#a82228" stroke-width="0.09" text-anchor="end">Peritoneum</text>
<text transform="translate(368.26,212.3) rotate(-90)" font-size="4.6" fill="#a82228" stroke="#a82228" stroke-width="0.09" text-anchor="end">Specimen-bag</text>
<text x="288" y="285.7" font-size="6.45" fill="#222" stroke="#222" stroke-width="0.16" text-anchor="middle" font-weight="bold" font-style="italic" text-decoration="underline">Triplet</text>
<path d="M288,288.9 L288,310.7" stroke="#9a9a9a" stroke-width="1.2" fill="none"/>
<path d="M288,288.9 L288,294.5 Q288,299.5 283,299.5 M288,294.5 Q288,299.5 293,299.5" stroke="#666" stroke-width="0.9" fill="none"/>
<path d="M232.4,299.5 L283,299.5" stroke="#444" stroke-width="0.9" fill="none"/>
<path d="M293,299.5 L343,299.5" stroke="#444" stroke-width="0.9" fill="none"/>
<path d="M232.4,299.5 Q226.4,299.5 226.4,305.5 L226.4,310.7" stroke="#444" stroke-width="0.9" fill="none"/>
<path d="M343,299.5 Q349,299.5 349,305.5 L349,310.7" stroke="#444" stroke-width="0.9" fill="none"/>
<circle cx="226.4" cy="310.7" r="1.0" fill="#fff" stroke="#444" stroke-width="0.6"/>
<circle cx="288" cy="310.7" r="1.0" fill="#fff" stroke="#444" stroke-width="0.6"/>
<circle cx="349" cy="310.7" r="1.0" fill="#fff" stroke="#444" stroke-width="0.6"/>
<text x="226.2" y="315.9" font-size="5.6" fill="#4e3f92" stroke="#4e3f92" stroke-width="0.14" text-anchor="middle" font-weight="bold" font-style="italic" text-decoration="underline">Instrument</text>
<text x="288" y="315.9" font-size="5.6" fill="#2560a5" stroke="#2560a5" stroke-width="0.14" text-anchor="middle" font-weight="bold" font-style="italic" text-decoration="underline">Verb</text>
<text x="348.6" y="315.9" font-size="5.6" fill="#a82228" stroke="#a82228" stroke-width="0.14" text-anchor="middle" font-weight="bold" font-style="italic" text-decoration="underline">Target</text>
<path d="M226.6,319.2 L226.6,334.2" stroke="#4e3f92" stroke-width="0.9" fill="none"/>
<path d="M214.3,334.2 L246.5,334.2" stroke="#4e3f92" stroke-width="0.9" fill="none"/>
<path d="M214.3,334.2 Q210.3,334.2 210.3,338.2 L210.3,341" stroke="#4e3f92" stroke-width="0.9" fill="none"/>
<circle cx="210.3" cy="341" r="0.9" fill="#fff" stroke="#4e3f92" stroke-width="0.6"/>
<path d="M221,334.2 Q217,334.2 217,338.2 L217,341" stroke="#4e3f92" stroke-width="0.9" fill="none"/>
<circle cx="217" cy="341" r="0.9" fill="#fff" stroke="#4e3f92" stroke-width="0.6"/>
<path d="M226.6,334.2 Q223.7,334.2 223.7,337.1 L223.7,341" stroke="#4e3f92" stroke-width="0.9" fill="none"/>
<circle cx="223.7" cy="341" r="0.9" fill="#fff" stroke="#4e3f92" stroke-width="0.6"/>
<path d="M226.6,334.2 Q230.4,334.2 230.4,338 L230.4,341" stroke="#4e3f92" stroke-width="0.9" fill="none"/>
<circle cx="230.4" cy="341" r="0.9" fill="#fff" stroke="#4e3f92" stroke-width="0.6"/>
<path d="M233.1,334.2 Q237.1,334.2 237.1,338.2 L237.1,341" stroke="#4e3f92" stroke-width="0.9" fill="none"/>
<circle cx="237.1" cy="341" r="0.9" fill="#fff" stroke="#4e3f92" stroke-width="0.6"/>
<path d="M239.8,334.2 Q243.8,334.2 243.8,338.2 L243.8,341" stroke="#4e3f92" stroke-width="0.9" fill="none"/>
<circle cx="243.8" cy="341" r="0.9" fill="#fff" stroke="#4e3f92" stroke-width="0.6"/>
<path d="M246.5,334.2 Q250.5,334.2 250.5,338.2 L250.5,341" stroke="#4e3f92" stroke-width="0.9" fill="none"/>
<circle cx="250.5" cy="341" r="0.9" fill="#fff" stroke="#4e3f92" stroke-width="0.6"/>
<text transform="translate(211.96,342.9) rotate(-90)" font-size="4.6" fill="#4e3f92" stroke="#4e3f92" stroke-width="0" text-anchor="end">Scissors</text>
<text transform="translate(218.66,342.9) rotate(-90)" font-size="4.6" fill="#4e3f92" stroke="#4e3f92" stroke-width="0" text-anchor="end">Forceps</text>
<text transform="translate(225.36,342.9) rotate(-90)" font-size="4.6" fill="#4e3f92" stroke="#4e3f92" stroke-width="0" text-anchor="end">Aspirator</text>
<text transform="translate(232.06,342.9) rotate(-90)" font-size="4.6" fill="#4e3f92" stroke="#4e3f92" stroke-width="0" text-anchor="end">Needle Driver</text>
<text transform="translate(238.76,342.9) rotate(-90)" font-size="4.6" fill="#4e3f92" stroke="#4e3f92" stroke-width="0" text-anchor="end">Grasper</text>
<text transform="translate(245.46,342.9) rotate(-90)" font-size="4.6" fill="#4e3f92" stroke="#4e3f92" stroke-width="0" text-anchor="end">Clip Applier</text>
<text transform="translate(252.16,342.9) rotate(-90)" font-size="4.6" fill="#4e3f92" stroke="#4e3f92" stroke-width="0" text-anchor="end">Endobag</text>
<path d="M288,319.2 L288,334.2" stroke="#2560a5" stroke-width="0.9" fill="none"/>
<path d="M261.2,334.2 L293.4,334.2" stroke="#2560a5" stroke-width="0.9" fill="none"/>
<path d="M261.2,334.2 Q257.2,334.2 257.2,338.2 L257.2,341" stroke="#2560a5" stroke-width="0.9" fill="none"/>
<circle cx="257.2" cy="341" r="0.9" fill="#fff" stroke="#2560a5" stroke-width="0.6"/>
<path d="M267.9,334.2 Q263.9,334.2 263.9,338.2 L263.9,341" stroke="#2560a5" stroke-width="0.9" fill="none"/>
<circle cx="263.9" cy="341" r="0.9" fill="#fff" stroke="#2560a5" stroke-width="0.6"/>
<path d="M274.6,334.2 Q270.6,334.2 270.6,338.2 L270.6,341" stroke="#2560a5" stroke-width="0.9" fill="none"/>
<circle cx="270.6" cy="341" r="0.9" fill="#fff" stroke="#2560a5" stroke-width="0.6"/>
<path d="M281.3,334.2 Q277.3,334.2 277.3,338.2 L277.3,341" stroke="#2560a5" stroke-width="0.9" fill="none"/>
<circle cx="277.3" cy="341" r="0.9" fill="#fff" stroke="#2560a5" stroke-width="0.6"/>
<path d="M288,334.2 Q284,334.2 284,338.2 L284,341" stroke="#2560a5" stroke-width="0.9" fill="none"/>
<circle cx="284" cy="341" r="0.9" fill="#fff" stroke="#2560a5" stroke-width="0.6"/>
<path d="M288,334.2 Q290.7,334.2 290.7,336.9 L290.7,341" stroke="#2560a5" stroke-width="0.9" fill="none"/>
<circle cx="290.7" cy="341" r="0.9" fill="#fff" stroke="#2560a5" stroke-width="0.6"/>
<path d="M293.4,334.2 Q297.4,334.2 297.4,338.2 L297.4,341" stroke="#2560a5" stroke-width="0.9" fill="none"/>
<circle cx="297.4" cy="341" r="0.9" fill="#fff" stroke="#2560a5" stroke-width="0.6"/>
<text transform="translate(258.86,342.9) rotate(-90)" font-size="4.6" fill="#2560a5" stroke="#2560a5" stroke-width="0" text-anchor="end">Clip</text>
<text transform="translate(265.56,342.9) rotate(-90)" font-size="4.6" fill="#2560a5" stroke="#2560a5" stroke-width="0" text-anchor="end">Coagulate</text>
<text transform="translate(272.26,342.9) rotate(-90)" font-size="4.6" fill="#2560a5" stroke="#2560a5" stroke-width="0" text-anchor="end">Cut</text>
<text transform="translate(278.96,342.9) rotate(-90)" font-size="4.6" fill="#2560a5" stroke="#2560a5" stroke-width="0" text-anchor="end">Dissect</text>
<text transform="translate(285.66,342.9) rotate(-90)" font-size="4.6" fill="#2560a5" stroke="#2560a5" stroke-width="0" text-anchor="end">Grasp</text>
<text transform="translate(292.36,342.9) rotate(-90)" font-size="4.6" fill="#2560a5" stroke="#2560a5" stroke-width="0" text-anchor="end">Null-verb</text>
<text transform="translate(299.06,342.9) rotate(-90)" font-size="4.6" fill="#2560a5" stroke="#2560a5" stroke-width="0" text-anchor="end">Retract</text>
<path d="M349,319.2 L349,334.2" stroke="#a82228" stroke-width="0.9" fill="none"/>
<path d="M308.1,334.2 L360.4,334.2" stroke="#a82228" stroke-width="0.9" fill="none"/>
<path d="M308.1,334.2 Q304.1,334.2 304.1,338.2 L304.1,341" stroke="#a82228" stroke-width="0.9" fill="none"/>
<circle cx="304.1" cy="341" r="0.9" fill="#fff" stroke="#a82228" stroke-width="0.6"/>
<path d="M314.8,334.2 Q310.8,334.2 310.8,338.2 L310.8,341" stroke="#a82228" stroke-width="0.9" fill="none"/>
<circle cx="310.8" cy="341" r="0.9" fill="#fff" stroke="#a82228" stroke-width="0.6"/>
<path d="M321.5,334.2 Q317.5,334.2 317.5,338.2 L317.5,341" stroke="#a82228" stroke-width="0.9" fill="none"/>
<circle cx="317.5" cy="341" r="0.9" fill="#fff" stroke="#a82228" stroke-width="0.6"/>
<path d="M328.2,334.2 Q324.2,334.2 324.2,338.2 L324.2,341" stroke="#a82228" stroke-width="0.9" fill="none"/>
<circle cx="324.2" cy="341" r="0.9" fill="#fff" stroke="#a82228" stroke-width="0.6"/>
<path d="M334.9,334.2 Q330.9,334.2 330.9,338.2 L330.9,341" stroke="#a82228" stroke-width="0.9" fill="none"/>
<circle cx="330.9" cy="341" r="0.9" fill="#fff" stroke="#a82228" stroke-width="0.6"/>
<path d="M341.6,334.2 Q337.6,334.2 337.6,338.2 L337.6,341" stroke="#a82228" stroke-width="0.9" fill="none"/>
<circle cx="337.6" cy="341" r="0.9" fill="#fff" stroke="#a82228" stroke-width="0.6"/>
<path d="M348.3,334.2 Q344.3,334.2 344.3,338.2 L344.3,341" stroke="#a82228" stroke-width="0.9" fill="none"/>
<circle cx="344.3" cy="341" r="0.9" fill="#fff" stroke="#a82228" stroke-width="0.6"/>
<path d="M349,334.2 Q351,334.2 351,336.2 L351,341" stroke="#a82228" stroke-width="0.9" fill="none"/>
<circle cx="351" cy="341" r="0.9" fill="#fff" stroke="#a82228" stroke-width="0.6"/>
<path d="M353.7,334.2 Q357.7,334.2 357.7,338.2 L357.7,341" stroke="#a82228" stroke-width="0.9" fill="none"/>
<circle cx="357.7" cy="341" r="0.9" fill="#fff" stroke="#a82228" stroke-width="0.6"/>
<path d="M360.4,334.2 Q364.4,334.2 364.4,338.2 L364.4,341" stroke="#a82228" stroke-width="0.9" fill="none"/>
<circle cx="364.4" cy="341" r="0.9" fill="#fff" stroke="#a82228" stroke-width="0.6"/>
<text transform="translate(305.76,342.9) rotate(-90)" font-size="4.6" fill="#a82228" stroke="#a82228" stroke-width="0" text-anchor="end">Bladder</text>
<text transform="translate(312.46,342.9) rotate(-90)" font-size="4.6" fill="#a82228" stroke="#a82228" stroke-width="0" text-anchor="end">Catheter</text>
<text transform="translate(319.16,342.9) rotate(-90)" font-size="4.6" fill="#a82228" stroke="#a82228" stroke-width="0" text-anchor="end">Seminal Vesicle</text>
<text transform="translate(325.86,342.9) rotate(-90)" font-size="4.6" fill="#a82228" stroke="#a82228" stroke-width="0" text-anchor="end">Prostate</text>
<text transform="translate(332.56,342.9) rotate(-90)" font-size="4.6" fill="#a82228" stroke="#a82228" stroke-width="0" text-anchor="end">Fascias</text>
<text transform="translate(339.26,342.9) rotate(-90)" font-size="4.6" fill="#a82228" stroke="#a82228" stroke-width="0" text-anchor="end">Gauze</text>
<text transform="translate(345.96,342.9) rotate(-90)" font-size="4.6" fill="#a82228" stroke="#a82228" stroke-width="0" text-anchor="end">Endobag</text>
<text transform="translate(352.66,342.9) rotate(-90)" font-size="4.6" fill="#a82228" stroke="#a82228" stroke-width="0" text-anchor="end">Thread</text>
<text transform="translate(359.36,342.9) rotate(-90)" font-size="4.6" fill="#a82228" stroke="#a82228" stroke-width="0" text-anchor="end">Fluid</text>
<text transform="translate(366.06,342.9) rotate(-90)" font-size="4.6" fill="#a82228" stroke="#a82228" stroke-width="0" text-anchor="end">Null-target</text>
<rect x="255.3" y="410.5" width="112.2" height="37.7" fill="#fff" stroke="#1a1a1a" stroke-width="1.25"/>
<path d="M255.3,423.2 L367.5,423.2" stroke="#1a1a1a" stroke-width="1.25" fill="none"/>
<path d="M255.3,435.7 L367.5,435.7" stroke="#1a1a1a" stroke-width="1.25" fill="none"/>
<path d="M292.7,410.5 L292.7,448.2" stroke="#1a1a1a" stroke-width="1.25"/>
<path d="M330.1,410.5 L330.1,448.2" stroke="#1a1a1a" stroke-width="1.25"/>
<text x="274" y="418.95" font-size="5.8" fill="#111" stroke="#111" stroke-width="0.14" text-anchor="middle">2 Points</text>
<text x="311.4" y="418.95" font-size="5.8" fill="#111" stroke="#111" stroke-width="0.14" text-anchor="middle">1 Points</text>
<text x="348.8" y="418.95" font-size="5.8" fill="#111" stroke="#111" stroke-width="0.14" text-anchor="middle">0 Points</text>
<text x="274" y="431.55" font-size="5.8" fill="#111" stroke="#111" stroke-width="0.14" text-anchor="middle">2 Points</text>
<text x="311.4" y="431.55" font-size="5.8" fill="#111" stroke="#111" stroke-width="0.14" text-anchor="middle">1 Points</text>
<text x="348.8" y="431.55" font-size="5.8" fill="#111" stroke="#111" stroke-width="0.14" text-anchor="middle">0 Points</text>
<text x="274" y="444.05" font-size="5.8" fill="#111" stroke="#111" stroke-width="0.14" text-anchor="middle">2 Points</text>
<text x="311.4" y="444.05" font-size="5.8" fill="#111" stroke="#111" stroke-width="0.14" text-anchor="middle">1 Points</text>
<text x="348.8" y="444.05" font-size="5.8" fill="#111" stroke="#111" stroke-width="0.14" text-anchor="middle">0 Points</text>
<text x="253" y="414.5" font-size="5.55" fill="#5a4a9c" stroke="#5a4a9c" stroke-width="0.14" text-anchor="end" font-weight="bold">Two</text>
<text x="253" y="420.1" font-size="5.55" fill="#5a4a9c" stroke="#5a4a9c" stroke-width="0.14" text-anchor="end" font-weight="bold">Structures</text>
<text x="253" y="430.6" font-size="5.8" fill="#2f6aad" stroke="#2f6aad" stroke-width="0.14" text-anchor="end" font-weight="bold" font-style="italic">Cystic Plate</text>
<text x="253" y="440.2" font-size="5.8" fill="#b0282e" stroke="#b0282e" stroke-width="0.14" text-anchor="end" font-weight="bold" font-style="italic">Hepatocystic</text>
<text x="251" y="445.5" font-size="5.8" fill="#b0282e" stroke="#b0282e" stroke-width="0.14" text-anchor="end" font-weight="bold" font-style="italic">Triangle</text>
<text x="288" y="455" font-size="6.4" fill="#111" stroke="#111" stroke-width="0.16" text-anchor="middle" font-weight="bold" font-style="italic" text-decoration="underline">Scores</text>
<rect x="255.3" y="543.5" width="75" height="37.5" fill="#fff" stroke="#1a1a1a" stroke-width="1.25"/>
<path d="M255.3,556 L330.3,556" stroke="#1a1a1a" stroke-width="1.25" fill="none"/>
<path d="M255.3,568.5 L330.3,568.5" stroke="#1a1a1a" stroke-width="1.25" fill="none"/>
<path d="M292.8,543.5 L292.8,581" stroke="#1a1a1a" stroke-width="1.25"/>
<text x="274.05" y="551.85" font-size="5.8" fill="#111" stroke="#111" stroke-width="0.14" text-anchor="middle">1 Points</text>
<text x="311.55" y="551.85" font-size="5.8" fill="#111" stroke="#111" stroke-width="0.14" text-anchor="middle">0 Points</text>
<text x="274.05" y="564.35" font-size="5.8" fill="#111" stroke="#111" stroke-width="0.14" text-anchor="middle">1 Points</text>
<text x="311.55" y="564.35" font-size="5.8" fill="#111" stroke="#111" stroke-width="0.14" text-anchor="middle">0 Points</text>
<text x="274.05" y="576.85" font-size="5.8" fill="#111" stroke="#111" stroke-width="0.14" text-anchor="middle">1 Points</text>
<text x="311.55" y="576.85" font-size="5.8" fill="#111" stroke="#111" stroke-width="0.14" text-anchor="middle">0 Points</text>
<text x="253" y="546.8" font-size="5.55" fill="#5a4a9c" stroke="#5a4a9c" stroke-width="0.14" text-anchor="end" font-weight="bold">Two</text>
<text x="253" y="552.7" font-size="5.55" fill="#5a4a9c" stroke="#5a4a9c" stroke-width="0.14" text-anchor="end" font-weight="bold">Structures</text>
<text x="253" y="563.6" font-size="5.8" fill="#2f6aad" stroke="#2f6aad" stroke-width="0.14" text-anchor="end" font-weight="bold" font-style="italic">Cystic Plate</text>
<text x="253" y="572.4" font-size="5.8" fill="#b0282e" stroke="#b0282e" stroke-width="0.14" text-anchor="end" font-weight="bold" font-style="italic">Hepatocystic</text>
<text x="251" y="578.4" font-size="5.8" fill="#b0282e" stroke="#b0282e" stroke-width="0.14" text-anchor="end" font-weight="bold" font-style="italic">Triangle</text>
<text x="288" y="587.9" font-size="6.4" fill="#111" stroke="#111" stroke-width="0.16" text-anchor="middle" font-weight="bold" font-style="italic" text-decoration="underline">Scores</text>
<path d="M288,457.5 L288,458.7 Q288,463.2 283.5,463.2 M288,458.7 Q288,463.2 292.5,463.2" stroke="#2a2a2a" stroke-width="0.9" fill="none"/>
<path d="M288,457.5 L288,469.2" stroke="#2a2a2a" stroke-width="0.9" fill="none"/>
<path d="M216.4,463.2 L283.5,463.2" stroke="#2a2a2a" stroke-width="0.9" fill="none"/>
<path d="M292.5,463.2 L359.7,463.2" stroke="#2a2a2a" stroke-width="0.9" fill="none"/>
<path d="M216.4,463.2 Q210.4,463.2 210.4,469.2 L210.4,469.5" stroke="#2a2a2a" stroke-width="0.9" fill="none"/>
<text x="210.4" y="475.6" font-size="6.6" fill="#1a1a1a" text-anchor="middle" font-weight="bold">6</text>
<path d="M242.6,463.2 Q236.6,463.2 236.6,469.2 L236.6,469.5" stroke="#2a2a2a" stroke-width="0.9" fill="none"/>
<text x="236.6" y="475.6" font-size="6.6" fill="#1a1a1a" text-anchor="middle" font-weight="bold">5</text>
<path d="M268.3,463.2 Q262.3,463.2 262.3,469.2 L262.3,469.5" stroke="#2a2a2a" stroke-width="0.9" fill="none"/>
<text x="262.3" y="475.6" font-size="6.6" fill="#a82828" text-anchor="middle" font-weight="bold">4</text>
<text x="288" y="475.6" font-size="6.6" fill="#cc2424" text-anchor="middle" font-weight="bold">3</text>
<path d="M308,463.2 Q314,463.2 314,469.2 L314,469.5" stroke="#2a2a2a" stroke-width="0.9" fill="none"/>
<text x="314" y="475.6" font-size="6.6" fill="#b83030" text-anchor="middle" font-weight="bold">2</text>
<path d="M334.2,463.2 Q340.2,463.2 340.2,469.2 L340.2,469.5" stroke="#2a2a2a" stroke-width="0.9" fill="none"/>
<text x="340.2" y="475.6" font-size="6.6" fill="#d83a3a" text-anchor="middle" font-weight="bold">1</text>
<path d="M359.7,463.2 Q365.7,463.2 365.7,469.2 L365.7,471" stroke="#2a2a2a" stroke-width="0.9" fill="none"/>
<ellipse cx="365.7" cy="472.9" rx="1.6" ry="2" fill="#e0e0e0" stroke="#aaa" stroke-width="0.6"/>
<path d="M210.4,477.8 L210.4,490.5" stroke="#1a1a1a" stroke-width="0.9" fill="none"/>
<path d="M209.65,490.8 L208.35,490.8 L208.35,506.7 L209.65,506.7 M211.55,490.8 L212.85,490.8 L212.85,506.7 L211.55,506.7" stroke="#1a1a1a" stroke-width="0.95" fill="none"/>
<text x="210.6" y="494.95" font-size="4.9" fill="#222" stroke="#222" stroke-width="0.12" text-anchor="middle">2</text>
<text x="210.6" y="500.25" font-size="4.9" fill="#222" stroke="#222" stroke-width="0.12" text-anchor="middle">2</text>
<text x="210.6" y="505.55" font-size="4.9" fill="#222" stroke="#222" stroke-width="0.12" text-anchor="middle">2</text>
<path d="M236.6,477.8 L236.6,484.4" stroke="#1a1a1a" stroke-width="0.85" fill="none"/>
<path d="M219.57,484.4 L236.6,484.4" stroke="#1a1a1a" stroke-width="0.85" fill="none"/>
<path d="M219.57,484.4 Q216.57,484.4 216.57,487.4 L216.57,490.3" stroke="#1a1a1a" stroke-width="0.85" fill="none"/>
<path d="M225.54,484.4 Q222.54,484.4 222.54,487.4 L222.54,490.3" stroke="#1a1a1a" stroke-width="0.85" fill="none"/>
<path d="M231.51,484.4 Q228.51,484.4 228.51,487.4 L228.51,490.3" stroke="#1a1a1a" stroke-width="0.85" fill="none"/>
<path d="M215.62,490.8 L214.32,490.8 L214.32,506.7 L215.62,506.7 M217.52,490.8 L218.82,490.8 L218.82,506.7 L217.52,506.7" stroke="#1a1a1a" stroke-width="0.95" fill="none"/>
<text x="216.57" y="494.95" font-size="4.9" fill="#222" stroke="#222" stroke-width="0.12" text-anchor="middle">2</text>
<text x="216.57" y="500.25" font-size="4.9" fill="#222" stroke="#222" stroke-width="0.12" text-anchor="middle">2</text>
<text x="216.57" y="505.55" font-size="4.9" fill="#222" stroke="#222" stroke-width="0.12" text-anchor="middle">1</text>
<path d="M221.59,490.8 L220.29,490.8 L220.29,506.7 L221.59,506.7 M223.49,490.8 L224.79,490.8 L224.79,506.7 L223.49,506.7" stroke="#1a1a1a" stroke-width="0.95" fill="none"/>
<text x="222.54" y="494.95" font-size="4.9" fill="#222" stroke="#222" stroke-width="0.12" text-anchor="middle">2</text>
<text x="222.54" y="500.25" font-size="4.9" fill="#222" stroke="#222" stroke-width="0.12" text-anchor="middle">1</text>
<text x="222.54" y="505.55" font-size="4.9" fill="#222" stroke="#222" stroke-width="0.12" text-anchor="middle">2</text>
<path d="M227.56,490.8 L226.26,490.8 L226.26,506.7 L227.56,506.7 M229.46,490.8 L230.76,490.8 L230.76,506.7 L229.46,506.7" stroke="#1a1a1a" stroke-width="0.95" fill="none"/>
<text x="228.51" y="494.95" font-size="4.9" fill="#222" stroke="#222" stroke-width="0.12" text-anchor="middle">1</text>
<text x="228.51" y="500.25" font-size="4.9" fill="#222" stroke="#222" stroke-width="0.12" text-anchor="middle">2</text>
<text x="228.51" y="505.55" font-size="4.9" fill="#222" stroke="#222" stroke-width="0.12" text-anchor="middle">2</text>
<path d="M262.3,477.8 L262.3,484.4" stroke="#a82828" stroke-width="0.85" fill="none"/>
<path d="M237.48,484.4 L262.3,484.4" stroke="#a82828" stroke-width="0.85" fill="none"/>
<path d="M237.48,484.4 Q234.48,484.4 234.48,487.4 L234.48,490.3" stroke="#a82828" stroke-width="0.85" fill="none"/>
<path d="M243.45,484.4 Q240.45,484.4 240.45,487.4 L240.45,490.3" stroke="#a82828" stroke-width="0.85" fill="none"/>
<path d="M249.42,484.4 Q246.42,484.4 246.42,487.4 L246.42,490.3" stroke="#a82828" stroke-width="0.85" fill="none"/>
<path d="M255.39,484.4 Q252.39,484.4 252.39,487.4 L252.39,490.3" stroke="#a82828" stroke-width="0.85" fill="none"/>
<path d="M261.36,484.4 Q258.36,484.4 258.36,487.4 L258.36,490.3" stroke="#a82828" stroke-width="0.85" fill="none"/>
<path d="M262.3,484.4 Q264.33,484.4 264.33,486.43 L264.33,490.3" stroke="#a82828" stroke-width="0.85" fill="none"/>
<path d="M233.53,490.8 L232.23,490.8 L232.23,506.7 L233.53,506.7 M235.43,490.8 L236.73,490.8 L236.73,506.7 L235.43,506.7" stroke="#a82828" stroke-width="0.95" fill="none"/>
<text x="234.48" y="494.95" font-size="4.9" fill="#222" stroke="#222" stroke-width="0.12" text-anchor="middle">2</text>
<text x="234.48" y="500.25" font-size="4.9" fill="#222" stroke="#222" stroke-width="0.12" text-anchor="middle">2</text>
<text x="234.48" y="505.55" font-size="4.9" fill="#222" stroke="#222" stroke-width="0.12" text-anchor="middle">0</text>
<path d="M239.5,490.8 L238.2,490.8 L238.2,506.7 L239.5,506.7 M241.4,490.8 L242.7,490.8 L242.7,506.7 L241.4,506.7" stroke="#a82828" stroke-width="0.95" fill="none"/>
<text x="240.45" y="494.95" font-size="4.9" fill="#222" stroke="#222" stroke-width="0.12" text-anchor="middle">2</text>
<text x="240.45" y="500.25" font-size="4.9" fill="#222" stroke="#222" stroke-width="0.12" text-anchor="middle">0</text>
<text x="240.45" y="505.55" font-size="4.9" fill="#222" stroke="#222" stroke-width="0.12" text-anchor="middle">2</text>
<path d="M245.47,490.8 L244.17,490.8 L244.17,506.7 L245.47,506.7 M247.37,490.8 L248.67,490.8 L248.67,506.7 L247.37,506.7" stroke="#a82828" stroke-width="0.95" fill="none"/>
<text x="246.42" y="494.95" font-size="4.9" fill="#222" stroke="#222" stroke-width="0.12" text-anchor="middle">0</text>
<text x="246.42" y="500.25" font-size="4.9" fill="#222" stroke="#222" stroke-width="0.12" text-anchor="middle">2</text>
<text x="246.42" y="505.55" font-size="4.9" fill="#222" stroke="#222" stroke-width="0.12" text-anchor="middle">2</text>
<path d="M251.44,490.8 L250.14,490.8 L250.14,506.7 L251.44,506.7 M253.34,490.8 L254.64,490.8 L254.64,506.7 L253.34,506.7" stroke="#a82828" stroke-width="0.95" fill="none"/>
<text x="252.39" y="494.95" font-size="4.9" fill="#222" stroke="#222" stroke-width="0.12" text-anchor="middle">2</text>
<text x="252.39" y="500.25" font-size="4.9" fill="#222" stroke="#222" stroke-width="0.12" text-anchor="middle">1</text>
<text x="252.39" y="505.55" font-size="4.9" fill="#222" stroke="#222" stroke-width="0.12" text-anchor="middle">1</text>
<path d="M257.41,490.8 L256.11,490.8 L256.11,506.7 L257.41,506.7 M259.31,490.8 L260.61,490.8 L260.61,506.7 L259.31,506.7" stroke="#a82828" stroke-width="0.95" fill="none"/>
<text x="258.36" y="494.95" font-size="4.9" fill="#222" stroke="#222" stroke-width="0.12" text-anchor="middle">1</text>
<text x="258.36" y="500.25" font-size="4.9" fill="#222" stroke="#222" stroke-width="0.12" text-anchor="middle">2</text>
<text x="258.36" y="505.55" font-size="4.9" fill="#222" stroke="#222" stroke-width="0.12" text-anchor="middle">1</text>
<path d="M263.38,490.8 L262.08,490.8 L262.08,506.7 L263.38,506.7 M265.28,490.8 L266.58,490.8 L266.58,506.7 L265.28,506.7" stroke="#a82828" stroke-width="0.95" fill="none"/>
<text x="264.33" y="494.95" font-size="4.9" fill="#222" stroke="#222" stroke-width="0.12" text-anchor="middle">1</text>
<text x="264.33" y="500.25" font-size="4.9" fill="#222" stroke="#222" stroke-width="0.12" text-anchor="middle">1</text>
<text x="264.33" y="505.55" font-size="4.9" fill="#222" stroke="#222" stroke-width="0.12" text-anchor="middle">2</text>
<path d="M288,477.8 L288,484.4" stroke="#cc2424" stroke-width="0.85" fill="none"/>
<path d="M273.3,484.4 L303.12,484.4" stroke="#cc2424" stroke-width="0.85" fill="none"/>
<path d="M273.3,484.4 Q270.3,484.4 270.3,487.4 L270.3,490.3" stroke="#cc2424" stroke-width="0.85" fill="none"/>
<path d="M279.27,484.4 Q276.27,484.4 276.27,487.4 L276.27,490.3" stroke="#cc2424" stroke-width="0.85" fill="none"/>
<path d="M285.24,484.4 Q282.24,484.4 282.24,487.4 L282.24,490.3" stroke="#cc2424" stroke-width="0.85" fill="none"/>
<path d="M288.21,484.4 L288.21,490.3" stroke="#cc2424" stroke-width="0.85" fill="none"/>
<path d="M291.18,484.4 Q294.18,484.4 294.18,487.4 L294.18,490.3" stroke="#cc2424" stroke-width="0.85" fill="none"/>
<path d="M297.15,484.4 Q300.15,484.4 300.15,487.4 L300.15,490.3" stroke="#cc2424" stroke-width="0.85" fill="none"/>
<path d="M303.12,484.4 Q306.12,484.4 306.12,487.4 L306.12,490.3" stroke="#cc2424" stroke-width="0.85" fill="none"/>
<path d="M269.35,490.8 L268.05,490.8 L268.05,506.7 L269.35,506.7 M271.25,490.8 L272.55,490.8 L272.55,506.7 L271.25,506.7" stroke="#cc2424" stroke-width="0.95" fill="none"/>
<text x="270.3" y="494.95" font-size="4.9" fill="#222" stroke="#222" stroke-width="0.12" text-anchor="middle">2</text>
<text x="270.3" y="500.25" font-size="4.9" fill="#222" stroke="#222" stroke-width="0.12" text-anchor="middle">1</text>
<text x="270.3" y="505.55" font-size="4.9" fill="#222" stroke="#222" stroke-width="0.12" text-anchor="middle">0</text>
<path d="M275.32,490.8 L274.02,490.8 L274.02,506.7 L275.32,506.7 M277.22,490.8 L278.52,490.8 L278.52,506.7 L277.22,506.7" stroke="#cc2424" stroke-width="0.95" fill="none"/>
<text x="276.27" y="494.95" font-size="4.9" fill="#222" stroke="#222" stroke-width="0.12" text-anchor="middle">2</text>
<text x="276.27" y="500.25" font-size="4.9" fill="#222" stroke="#222" stroke-width="0.12" text-anchor="middle">0</text>
<text x="276.27" y="505.55" font-size="4.9" fill="#222" stroke="#222" stroke-width="0.12" text-anchor="middle">1</text>
<path d="M281.29,490.8 L279.99,490.8 L279.99,506.7 L281.29,506.7 M283.19,490.8 L284.49,490.8 L284.49,506.7 L283.19,506.7" stroke="#cc2424" stroke-width="0.95" fill="none"/>
<text x="282.24" y="494.95" font-size="4.9" fill="#222" stroke="#222" stroke-width="0.12" text-anchor="middle">1</text>
<text x="282.24" y="500.25" font-size="4.9" fill="#222" stroke="#222" stroke-width="0.12" text-anchor="middle">2</text>
<text x="282.24" y="505.55" font-size="4.9" fill="#222" stroke="#222" stroke-width="0.12" text-anchor="middle">0</text>
<path d="M287.26,490.8 L285.96,490.8 L285.96,506.7 L287.26,506.7 M289.16,490.8 L290.46,490.8 L290.46,506.7 L289.16,506.7" stroke="#cc2424" stroke-width="0.95" fill="none"/>
<text x="288.21" y="494.95" font-size="4.9" fill="#222" stroke="#222" stroke-width="0.12" text-anchor="middle">1</text>
<text x="288.21" y="500.25" font-size="4.9" fill="#222" stroke="#222" stroke-width="0.12" text-anchor="middle">0</text>
<text x="288.21" y="505.55" font-size="4.9" fill="#222" stroke="#222" stroke-width="0.12" text-anchor="middle">2</text>
<path d="M293.23,490.8 L291.93,490.8 L291.93,506.7 L293.23,506.7 M295.13,490.8 L296.43,490.8 L296.43,506.7 L295.13,506.7" stroke="#cc2424" stroke-width="0.95" fill="none"/>
<text x="294.18" y="494.95" font-size="4.9" fill="#222" stroke="#222" stroke-width="0.12" text-anchor="middle">0</text>
<text x="294.18" y="500.25" font-size="4.9" fill="#222" stroke="#222" stroke-width="0.12" text-anchor="middle">2</text>
<text x="294.18" y="505.55" font-size="4.9" fill="#222" stroke="#222" stroke-width="0.12" text-anchor="middle">1</text>
<path d="M299.2,490.8 L297.9,490.8 L297.9,506.7 L299.2,506.7 M301.1,490.8 L302.4,490.8 L302.4,506.7 L301.1,506.7" stroke="#cc2424" stroke-width="0.95" fill="none"/>
<text x="300.15" y="494.95" font-size="4.9" fill="#222" stroke="#222" stroke-width="0.12" text-anchor="middle">0</text>
<text x="300.15" y="500.25" font-size="4.9" fill="#222" stroke="#222" stroke-width="0.12" text-anchor="middle">1</text>
<text x="300.15" y="505.55" font-size="4.9" fill="#222" stroke="#222" stroke-width="0.12" text-anchor="middle">2</text>
<path d="M305.17,490.8 L303.87,490.8 L303.87,506.7 L305.17,506.7 M307.07,490.8 L308.37,490.8 L308.37,506.7 L307.07,506.7" stroke="#cc2424" stroke-width="0.95" fill="none"/>
<text x="306.12" y="494.95" font-size="4.9" fill="#222" stroke="#222" stroke-width="0.12" text-anchor="middle">1</text>
<text x="306.12" y="500.25" font-size="4.9" fill="#222" stroke="#222" stroke-width="0.12" text-anchor="middle">1</text>
<text x="306.12" y="505.55" font-size="4.9" fill="#222" stroke="#222" stroke-width="0.12" text-anchor="middle">1</text>
<path d="M314,477.8 L314,484.4" stroke="#b83030" stroke-width="0.85" fill="none"/>
<path d="M314,484.4 L338.94,484.4" stroke="#b83030" stroke-width="0.85" fill="none"/>
<path d="M314,484.4 Q312.09,484.4 312.09,486.31 L312.09,490.3" stroke="#b83030" stroke-width="0.85" fill="none"/>
<path d="M315.06,484.4 Q318.06,484.4 318.06,487.4 L318.06,490.3" stroke="#b83030" stroke-width="0.85" fill="none"/>
<path d="M321.03,484.4 Q324.03,484.4 324.03,487.4 L324.03,490.3" stroke="#b83030" stroke-width="0.85" fill="none"/>
<path d="M327,484.4 Q330,484.4 330,487.4 L330,490.3" stroke="#b83030" stroke-width="0.85" fill="none"/>
<path d="M332.97,484.4 Q335.97,484.4 335.97,487.4 L335.97,490.3" stroke="#b83030" stroke-width="0.85" fill="none"/>
<path d="M338.94,484.4 Q341.94,484.4 341.94,487.4 L341.94,490.3" stroke="#b83030" stroke-width="0.85" fill="none"/>
<path d="M311.14,490.8 L309.84,490.8 L309.84,506.7 L311.14,506.7 M313.04,490.8 L314.34,490.8 L314.34,506.7 L313.04,506.7" stroke="#b83030" stroke-width="0.95" fill="none"/>
<text x="312.09" y="494.95" font-size="4.9" fill="#222" stroke="#222" stroke-width="0.12" text-anchor="middle">2</text>
<text x="312.09" y="500.25" font-size="4.9" fill="#222" stroke="#222" stroke-width="0.12" text-anchor="middle">0</text>
<text x="312.09" y="505.55" font-size="4.9" fill="#222" stroke="#222" stroke-width="0.12" text-anchor="middle">0</text>
<path d="M317.11,490.8 L315.81,490.8 L315.81,506.7 L317.11,506.7 M319.01,490.8 L320.31,490.8 L320.31,506.7 L319.01,506.7" stroke="#b83030" stroke-width="0.95" fill="none"/>
<text x="318.06" y="494.95" font-size="4.9" fill="#222" stroke="#222" stroke-width="0.12" text-anchor="middle">0</text>
<text x="318.06" y="500.25" font-size="4.9" fill="#222" stroke="#222" stroke-width="0.12" text-anchor="middle">2</text>
<text x="318.06" y="505.55" font-size="4.9" fill="#222" stroke="#222" stroke-width="0.12" text-anchor="middle">0</text>
<path d="M323.08,490.8 L321.78,490.8 L321.78,506.7 L323.08,506.7 M324.98,490.8 L326.28,490.8 L326.28,506.7 L324.98,506.7" stroke="#b83030" stroke-width="0.95" fill="none"/>
<text x="324.03" y="494.95" font-size="4.9" fill="#222" stroke="#222" stroke-width="0.12" text-anchor="middle">0</text>
<text x="324.03" y="500.25" font-size="4.9" fill="#222" stroke="#222" stroke-width="0.12" text-anchor="middle">0</text>
<text x="324.03" y="505.55" font-size="4.9" fill="#222" stroke="#222" stroke-width="0.12" text-anchor="middle">2</text>
<path d="M329.05,490.8 L327.75,490.8 L327.75,506.7 L329.05,506.7 M330.95,490.8 L332.25,490.8 L332.25,506.7 L330.95,506.7" stroke="#b83030" stroke-width="0.95" fill="none"/>
<text x="330" y="494.95" font-size="4.9" fill="#222" stroke="#222" stroke-width="0.12" text-anchor="middle">1</text>
<text x="330" y="500.25" font-size="4.9" fill="#222" stroke="#222" stroke-width="0.12" text-anchor="middle">1</text>
<text x="330" y="505.55" font-size="4.9" fill="#222" stroke="#222" stroke-width="0.12" text-anchor="middle">0</text>
<path d="M335.02,490.8 L333.72,490.8 L333.72,506.7 L335.02,506.7 M336.92,490.8 L338.22,490.8 L338.22,506.7 L336.92,506.7" stroke="#b83030" stroke-width="0.95" fill="none"/>
<text x="335.97" y="494.95" font-size="4.9" fill="#222" stroke="#222" stroke-width="0.12" text-anchor="middle">1</text>
<text x="335.97" y="500.25" font-size="4.9" fill="#222" stroke="#222" stroke-width="0.12" text-anchor="middle">0</text>
<text x="335.97" y="505.55" font-size="4.9" fill="#222" stroke="#222" stroke-width="0.12" text-anchor="middle">1</text>
<path d="M340.99,490.8 L339.69,490.8 L339.69,506.7 L340.99,506.7 M342.89,490.8 L344.19,490.8 L344.19,506.7 L342.89,506.7" stroke="#b83030" stroke-width="0.95" fill="none"/>
<text x="341.94" y="494.95" font-size="4.9" fill="#222" stroke="#222" stroke-width="0.12" text-anchor="middle">0</text>
<text x="341.94" y="500.25" font-size="4.9" fill="#222" stroke="#222" stroke-width="0.12" text-anchor="middle">1</text>
<text x="341.94" y="505.55" font-size="4.9" fill="#222" stroke="#222" stroke-width="0.12" text-anchor="middle">1</text>
<path d="M340.2,477.8 L340.2,484.4" stroke="#d83a3a" stroke-width="0.85" fill="none"/>
<path d="M340.2,484.4 L356.85,484.4" stroke="#d83a3a" stroke-width="0.85" fill="none"/>
<path d="M344.91,484.4 Q347.91,484.4 347.91,487.4 L347.91,490.3" stroke="#d83a3a" stroke-width="0.85" fill="none"/>
<path d="M350.88,484.4 Q353.88,484.4 353.88,487.4 L353.88,490.3" stroke="#d83a3a" stroke-width="0.85" fill="none"/>
<path d="M356.85,484.4 Q359.85,484.4 359.85,487.4 L359.85,490.3" stroke="#d83a3a" stroke-width="0.85" fill="none"/>
<path d="M346.96,490.8 L345.66,490.8 L345.66,506.7 L346.96,506.7 M348.86,490.8 L350.16,490.8 L350.16,506.7 L348.86,506.7" stroke="#d83a3a" stroke-width="0.95" fill="none"/>
<text x="347.91" y="494.95" font-size="4.9" fill="#222" stroke="#222" stroke-width="0.12" text-anchor="middle">1</text>
<text x="347.91" y="500.25" font-size="4.9" fill="#222" stroke="#222" stroke-width="0.12" text-anchor="middle">0</text>
<text x="347.91" y="505.55" font-size="4.9" fill="#222" stroke="#222" stroke-width="0.12" text-anchor="middle">0</text>
<path d="M352.93,490.8 L351.63,490.8 L351.63,506.7 L352.93,506.7 M354.83,490.8 L356.13,490.8 L356.13,506.7 L354.83,506.7" stroke="#d83a3a" stroke-width="0.95" fill="none"/>
<text x="353.88" y="494.95" font-size="4.9" fill="#222" stroke="#222" stroke-width="0.12" text-anchor="middle">0</text>
<text x="353.88" y="500.25" font-size="4.9" fill="#222" stroke="#222" stroke-width="0.12" text-anchor="middle">1</text>
<text x="353.88" y="505.55" font-size="4.9" fill="#222" stroke="#222" stroke-width="0.12" text-anchor="middle">0</text>
<path d="M358.9,490.8 L357.6,490.8 L357.6,506.7 L358.9,506.7 M360.8,490.8 L362.1,490.8 L362.1,506.7 L360.8,506.7" stroke="#d83a3a" stroke-width="0.95" fill="none"/>
<text x="359.85" y="494.95" font-size="4.9" fill="#222" stroke="#222" stroke-width="0.12" text-anchor="middle">0</text>
<text x="359.85" y="500.25" font-size="4.9" fill="#222" stroke="#222" stroke-width="0.12" text-anchor="middle">0</text>
<text x="359.85" y="505.55" font-size="4.9" fill="#222" stroke="#222" stroke-width="0.12" text-anchor="middle">1</text>
<path d="M365.7,477.8 L365.7,490.5" stroke="#b0b0b0" stroke-width="0.9" fill="none"/>
<path d="M364.87,490.8 L363.57,490.8 L363.57,506.7 L364.87,506.7 M366.77,490.8 L368.07,490.8 L368.07,506.7 L366.77,506.7" stroke="#b0b0b0" stroke-width="0.95" fill="none"/>
<text x="365.82" y="494.95" font-size="4.9" fill="#222" stroke="#222" stroke-width="0.12" text-anchor="middle">0</text>
<text x="365.82" y="500.25" font-size="4.9" fill="#222" stroke="#222" stroke-width="0.12" text-anchor="middle">0</text>
<text x="365.82" y="505.55" font-size="4.9" fill="#222" stroke="#222" stroke-width="0.12" text-anchor="middle">0</text>
<path d="M288,589.2 L288,591.7 Q288,596.2 283.5,596.2 M288,591.7 Q288,596.2 292.5,596.2" stroke="#2a2a2a" stroke-width="0.9" fill="none"/>
<path d="M217.6,596.2 L283.5,596.2" stroke="#2a2a2a" stroke-width="0.9" fill="none"/>
<path d="M292.5,596.2 L358.7,596.2" stroke="#2a2a2a" stroke-width="0.9" fill="none"/>
<path d="M217.6,596.2 Q210.6,596.2 210.6,603.2 L210.6,602.5" stroke="#2a2a2a" stroke-width="0.9" fill="none"/>
<text x="210.6" y="608" font-size="6.6" fill="#1a1a1a" text-anchor="middle" font-weight="bold">3</text>
<path d="M210.6,611.7 L210.6,621.6" stroke="#1a1a1a" stroke-width="0.85" fill="none"/>
<path d="M208.95,622.9 L207.65,622.9 L207.65,639 L208.95,639 M212.25,622.9 L213.55,622.9 L213.55,639 L212.25,639" stroke="#1a1a1a" stroke-width="0.95" fill="none"/>
<text x="210.6" y="627.18" font-size="4.7" fill="#333" text-anchor="middle">1</text>
<text x="210.6" y="632.55" font-size="4.7" fill="#333" text-anchor="middle">1</text>
<text x="210.6" y="637.92" font-size="4.7" fill="#333" text-anchor="middle">1</text>
<path d="M269.3,596.2 Q262.3,596.2 262.3,603.2 L262.3,602.5" stroke="#2a2a2a" stroke-width="0.9" fill="none"/>
<text x="262.3" y="608" font-size="6.6" fill="#9c2424" text-anchor="middle" font-weight="bold">2</text>
<path d="M262.3,612 L262.3,618.1" stroke="#9c2424" stroke-width="0.95" fill="none"/>
<path d="M236.5,618.1 L274.6,618.1" stroke="#9c2424" stroke-width="0.95" fill="none"/>
<path d="M236.5,618.1 Q233.5,618.1 233.5,621.1 L233.5,622.2" stroke="#9c2424" stroke-width="0.95" fill="none"/>
<path d="M258.9,618.1 Q255.9,618.1 255.9,621.1 L255.9,622.2" stroke="#9c2424" stroke-width="0.95" fill="none"/>
<path d="M274.6,618.1 Q277.6,618.1 277.6,621.1 L277.6,622.2" stroke="#9c2424" stroke-width="0.95" fill="none"/>
<path d="M231.85,622.9 L230.55,622.9 L230.55,639 L231.85,639 M235.15,622.9 L236.45,622.9 L236.45,639 L235.15,639" stroke="#9c2424" stroke-width="0.95" fill="none"/>
<text x="233.5" y="627.18" font-size="4.7" fill="#333" text-anchor="middle">1</text>
<text x="233.5" y="632.55" font-size="4.7" fill="#333" text-anchor="middle">1</text>
<text x="233.5" y="637.92" font-size="4.7" fill="#333" text-anchor="middle">0</text>
<path d="M254.25,622.9 L252.95,622.9 L252.95,639 L254.25,639 M257.55,622.9 L258.85,622.9 L258.85,639 L257.55,639" stroke="#9c2424" stroke-width="0.95" fill="none"/>
<text x="255.9" y="627.18" font-size="4.7" fill="#333" text-anchor="middle">1</text>
<text x="255.9" y="632.55" font-size="4.7" fill="#333" text-anchor="middle">0</text>
<text x="255.9" y="637.92" font-size="4.7" fill="#333" text-anchor="middle">1</text>
<path d="M275.95,622.9 L274.65,622.9 L274.65,639 L275.95,639 M279.25,622.9 L280.55,622.9 L280.55,639 L279.25,639" stroke="#9c2424" stroke-width="0.95" fill="none"/>
<text x="277.6" y="627.18" font-size="4.7" fill="#333" text-anchor="middle">0</text>
<text x="277.6" y="632.55" font-size="4.7" fill="#333" text-anchor="middle">1</text>
<text x="277.6" y="637.92" font-size="4.7" fill="#333" text-anchor="middle">1</text>
<path d="M307.2,596.2 Q314.2,596.2 314.2,603.2 L314.2,602.5" stroke="#2a2a2a" stroke-width="0.9" fill="none"/>
<text x="314.2" y="608" font-size="6.6" fill="#d43535" text-anchor="middle" font-weight="bold">1</text>
<path d="M314.2,612 L314.2,618.1" stroke="#d43535" stroke-width="0.95" fill="none"/>
<path d="M302.3,618.1 L340.4,618.1" stroke="#d43535" stroke-width="0.95" fill="none"/>
<path d="M302.3,618.1 Q299.3,618.1 299.3,621.1 L299.3,622.2" stroke="#d43535" stroke-width="0.95" fill="none"/>
<path d="M318,618.1 Q321,618.1 321,621.1 L321,622.2" stroke="#d43535" stroke-width="0.95" fill="none"/>
<path d="M340.4,618.1 Q343.4,618.1 343.4,621.1 L343.4,622.2" stroke="#d43535" stroke-width="0.95" fill="none"/>
<path d="M297.65,622.9 L296.35,622.9 L296.35,639 L297.65,639 M300.95,622.9 L302.25,622.9 L302.25,639 L300.95,639" stroke="#d43535" stroke-width="0.95" fill="none"/>
<text x="299.3" y="627.18" font-size="4.7" fill="#333" text-anchor="middle">1</text>
<text x="299.3" y="632.55" font-size="4.7" fill="#333" text-anchor="middle">0</text>
<text x="299.3" y="637.92" font-size="4.7" fill="#333" text-anchor="middle">0</text>
<path d="M319.35,622.9 L318.05,622.9 L318.05,639 L319.35,639 M322.65,622.9 L323.95,622.9 L323.95,639 L322.65,639" stroke="#d43535" stroke-width="0.95" fill="none"/>
<text x="321" y="627.18" font-size="4.7" fill="#333" text-anchor="middle">0</text>
<text x="321" y="632.55" font-size="4.7" fill="#333" text-anchor="middle">1</text>
<text x="321" y="637.92" font-size="4.7" fill="#333" text-anchor="middle">0</text>
<path d="M341.75,622.9 L340.45,622.9 L340.45,639 L341.75,639 M345.05,622.9 L346.35,622.9 L346.35,639 L345.05,639" stroke="#d43535" stroke-width="0.95" fill="none"/>
<text x="343.4" y="627.18" font-size="4.7" fill="#333" text-anchor="middle">0</text>
<text x="343.4" y="632.55" font-size="4.7" fill="#333" text-anchor="middle">0</text>
<text x="343.4" y="637.92" font-size="4.7" fill="#333" text-anchor="middle">1</text>
<path d="M358.7,596.2 Q365.7,596.2 365.7,603.2 L365.7,603.5" stroke="#2a2a2a" stroke-width="0.9" fill="none"/>
<ellipse cx="365.7" cy="605.5" rx="1.7" ry="2.1" fill="#e0e0e0" stroke="#aaa" stroke-width="0.6"/>
<path d="M365.7,611.7 L365.7,621.6" stroke="#b0b0b0" stroke-width="0.85" fill="none"/>
<path d="M363.75,622.9 L362.45,622.9 L362.45,639 L363.75,639 M367.05,622.9 L368.35,622.9 L368.35,639 L367.05,639" stroke="#b0b0b0" stroke-width="0.95" fill="none"/>
<text x="365.4" y="627.18" font-size="4.7" fill="#333" text-anchor="middle">0</text>
<text x="365.4" y="632.55" font-size="4.7" fill="#333" text-anchor="middle">0</text>
<text x="365.4" y="637.92" font-size="4.7" fill="#333" text-anchor="middle">0</text>
<path d="M392.3,3.3 L392.3,113.2 L523.5,113.2" stroke="#3a3a3a" stroke-width="1.05" fill="none"/>
<path d="M390,113.2 L392.3,113.2" stroke="#3a3a3a" stroke-width="0.9"/>
<text x="388" y="115.5" font-size="6.7" fill="#2a2a2a" stroke="#2a2a2a" stroke-width="0.17" text-anchor="end">30</text>
<path d="M391,107.09 L392.3,107.09" stroke="#3a3a3a" stroke-width="0.8"/>
<path d="M390,100.99 L392.3,100.99" stroke="#3a3a3a" stroke-width="0.9"/>
<text x="388" y="103.29" font-size="6.7" fill="#2a2a2a" stroke="#2a2a2a" stroke-width="0.17" text-anchor="end">35</text>
<path d="M391,94.88 L392.3,94.88" stroke="#3a3a3a" stroke-width="0.8"/>
<path d="M390,88.78 L392.3,88.78" stroke="#3a3a3a" stroke-width="0.9"/>
<text x="388" y="91.08" font-size="6.7" fill="#2a2a2a" stroke="#2a2a2a" stroke-width="0.17" text-anchor="end">40</text>
<path d="M391,82.67 L392.3,82.67" stroke="#3a3a3a" stroke-width="0.8"/>
<path d="M390,76.57 L392.3,76.57" stroke="#3a3a3a" stroke-width="0.9"/>
<text x="388" y="78.87" font-size="6.7" fill="#2a2a2a" stroke="#2a2a2a" stroke-width="0.17" text-anchor="end">45</text>
<path d="M391,70.46 L392.3,70.46" stroke="#3a3a3a" stroke-width="0.8"/>
<path d="M390,64.36 L392.3,64.36" stroke="#3a3a3a" stroke-width="0.9"/>
<text x="388" y="66.66" font-size="6.7" fill="#2a2a2a" stroke="#2a2a2a" stroke-width="0.17" text-anchor="end">50</text>
<path d="M391,58.25 L392.3,58.25" stroke="#3a3a3a" stroke-width="0.8"/>
<path d="M390,52.14 L392.3,52.14" stroke="#3a3a3a" stroke-width="0.9"/>
<text x="388" y="54.44" font-size="6.7" fill="#2a2a2a" stroke="#2a2a2a" stroke-width="0.17" text-anchor="end">55</text>
<path d="M391,46.04 L392.3,46.04" stroke="#3a3a3a" stroke-width="0.8"/>
<path d="M390,39.93 L392.3,39.93" stroke="#3a3a3a" stroke-width="0.9"/>
<text x="388" y="42.23" font-size="6.7" fill="#2a2a2a" stroke="#2a2a2a" stroke-width="0.17" text-anchor="end">60</text>
<path d="M391,33.83 L392.3,33.83" stroke="#3a3a3a" stroke-width="0.8"/>
<path d="M390,27.72 L392.3,27.72" stroke="#3a3a3a" stroke-width="0.9"/>
<text x="388" y="30.02" font-size="6.7" fill="#2a2a2a" stroke="#2a2a2a" stroke-width="0.17" text-anchor="end">65</text>
<path d="M391,21.62 L392.3,21.62" stroke="#3a3a3a" stroke-width="0.8"/>
<path d="M390,15.51 L392.3,15.51" stroke="#3a3a3a" stroke-width="0.9"/>
<text x="388" y="17.81" font-size="6.7" fill="#2a2a2a" stroke="#2a2a2a" stroke-width="0.17" text-anchor="end">70</text>
<path d="M391,9.41 L392.3,9.41" stroke="#3a3a3a" stroke-width="0.8"/>
<path d="M390,3.3 L392.3,3.3" stroke="#3a3a3a" stroke-width="0.9"/>
<text x="388" y="5.6" font-size="6.7" fill="#2a2a2a" stroke="#2a2a2a" stroke-width="0.17" text-anchor="end">75</text>
<text transform="translate(378.5,59.95) rotate(-90)" font-size="7.75" fill="#1a1a1a" stroke="#1a1a1a" stroke-width="0.25" text-anchor="middle">Accuracy</text>
<rect x="394.75" y="38.67" width="9.55" height="74.53" fill="#6fa8d2" stroke="#2a3e52" stroke-width="0.9"/>
<rect x="409.39" y="28.17" width="9.55" height="85.03" fill="#a9d8ea" stroke="#2f4650" stroke-width="0.9"/>
<rect x="424.03" y="53.57" width="9.55" height="59.63" fill="#dff1f8" stroke="#9aa6aa" stroke-width="0.9"/>
<rect x="438.67" y="69.69" width="9.55" height="43.51" fill="#f4e598" stroke="#4a4530" stroke-width="0.9"/>
<rect x="453.31" y="96.07" width="9.55" height="17.13" fill="#f9b97d" stroke="#4d3a2a" stroke-width="0.9"/>
<rect x="467.95" y="28.17" width="9.55" height="85.03" fill="#f78b77" stroke="#5e3e38" stroke-width="0.9"/>
<rect x="482.59" y="85.08" width="9.55" height="28.12" fill="#d96b8b" stroke="#4a2a35" stroke-width="0.9"/>
<rect x="497.23" y="33.55" width="9.55" height="79.65" fill="#a85a9c" stroke="#3a2040" stroke-width="0.9"/>
<rect x="511.87" y="23.78" width="9.55" height="89.42" fill="#5a4fa3" stroke="#221c45" stroke-width="0.9"/>
<path d="M472.73,8.66 L472.73,5.3 L516.64,5.3 L516.64,5.3" stroke="#505050" stroke-width="1.05" fill="none"/>
<text x="494.69" y="6.6" font-size="8" fill="#1a1a1a" stroke="#1a1a1a" stroke-width="0.2" text-anchor="middle" letter-spacing="0.8">***</text>
<path d="M399.53,21.62 L399.53,56.3 M396.73,21.62 L402.33,21.62 M396.73,56.3 L402.33,56.3" stroke="#2a2a2a" stroke-width="0.9" fill="none"/>
<path d="M414.17,11.36 L414.17,44.82 M411.37,11.36 L416.97,11.36 M411.37,44.82 L416.97,44.82" stroke="#2a2a2a" stroke-width="0.9" fill="none"/>
<path d="M428.81,37.49 L428.81,70.46 M426.01,37.49 L431.61,37.49 M426.01,70.46 L431.61,70.46" stroke="#2a2a2a" stroke-width="0.9" fill="none"/>
<path d="M443.45,52.14 L443.45,86.34 M440.65,52.14 L446.25,52.14 M440.65,86.34 L446.25,86.34" stroke="#2a2a2a" stroke-width="0.9" fill="none"/>
<path d="M458.09,79.5 L458.09,111.49 M455.29,79.5 L460.89,79.5 M455.29,111.49 L460.89,111.49" stroke="#2a2a2a" stroke-width="0.9" fill="none"/>
<path d="M472.73,11.36 L472.73,44.82 M469.93,11.36 L475.53,11.36 M469.93,44.82 L475.53,44.82" stroke="#2a2a2a" stroke-width="0.9" fill="none"/>
<path d="M487.37,67.53 L487.37,101.72 M484.56,67.53 L490.17,67.53 M484.56,101.72 L490.17,101.72" stroke="#2a2a2a" stroke-width="0.9" fill="none"/>
<path d="M502.01,16.49 L502.01,50.19 M499.21,16.49 L504.81,16.49 M499.21,50.19 L504.81,50.19" stroke="#2a2a2a" stroke-width="0.9" fill="none"/>
<path d="M516.64,6.23 L516.64,40.42 M513.85,6.23 L519.44,6.23 M513.85,40.42 L519.44,40.42" stroke="#2a2a2a" stroke-width="0.9" fill="none"/>
<path d="M553.6,3.3 L553.6,113.2 L685,113.2" stroke="#3a3a3a" stroke-width="1.05" fill="none"/>
<path d="M551.3,113.2 L553.6,113.2" stroke="#3a3a3a" stroke-width="0.9"/>
<text x="549.3" y="115.5" font-size="6.7" fill="#2a2a2a" stroke="#2a2a2a" stroke-width="0.17" text-anchor="end">30</text>
<path d="M552.3,107.09 L553.6,107.09" stroke="#3a3a3a" stroke-width="0.8"/>
<path d="M551.3,100.99 L553.6,100.99" stroke="#3a3a3a" stroke-width="0.9"/>
<text x="549.3" y="103.29" font-size="6.7" fill="#2a2a2a" stroke="#2a2a2a" stroke-width="0.17" text-anchor="end">35</text>
<path d="M552.3,94.88 L553.6,94.88" stroke="#3a3a3a" stroke-width="0.8"/>
<path d="M551.3,88.78 L553.6,88.78" stroke="#3a3a3a" stroke-width="0.9"/>
<text x="549.3" y="91.08" font-size="6.7" fill="#2a2a2a" stroke="#2a2a2a" stroke-width="0.17" text-anchor="end">40</text>
<path d="M552.3,82.67 L553.6,82.67" stroke="#3a3a3a" stroke-width="0.8"/>
<path d="M551.3,76.57 L553.6,76.57" stroke="#3a3a3a" stroke-width="0.9"/>
<text x="549.3" y="78.87" font-size="6.7" fill="#2a2a2a" stroke="#2a2a2a" stroke-width="0.17" text-anchor="end">45</text>
<path d="M552.3,70.46 L553.6,70.46" stroke="#3a3a3a" stroke-width="0.8"/>
<path d="M551.3,64.36 L553.6,64.36" stroke="#3a3a3a" stroke-width="0.9"/>
<text x="549.3" y="66.66" font-size="6.7" fill="#2a2a2a" stroke="#2a2a2a" stroke-width="0.17" text-anchor="end">50</text>
<path d="M552.3,58.25 L553.6,58.25" stroke="#3a3a3a" stroke-width="0.8"/>
<path d="M551.3,52.14 L553.6,52.14" stroke="#3a3a3a" stroke-width="0.9"/>
<text x="549.3" y="54.44" font-size="6.7" fill="#2a2a2a" stroke="#2a2a2a" stroke-width="0.17" text-anchor="end">55</text>
<path d="M552.3,46.04 L553.6,46.04" stroke="#3a3a3a" stroke-width="0.8"/>
<path d="M551.3,39.93 L553.6,39.93" stroke="#3a3a3a" stroke-width="0.9"/>
<text x="549.3" y="42.23" font-size="6.7" fill="#2a2a2a" stroke="#2a2a2a" stroke-width="0.17" text-anchor="end">60</text>
<path d="M552.3,33.83 L553.6,33.83" stroke="#3a3a3a" stroke-width="0.8"/>
<path d="M551.3,27.72 L553.6,27.72" stroke="#3a3a3a" stroke-width="0.9"/>
<text x="549.3" y="30.02" font-size="6.7" fill="#2a2a2a" stroke="#2a2a2a" stroke-width="0.17" text-anchor="end">65</text>
<path d="M552.3,21.62 L553.6,21.62" stroke="#3a3a3a" stroke-width="0.8"/>
<path d="M551.3,15.51 L553.6,15.51" stroke="#3a3a3a" stroke-width="0.9"/>
<text x="549.3" y="17.81" font-size="6.7" fill="#2a2a2a" stroke="#2a2a2a" stroke-width="0.17" text-anchor="end">70</text>
<path d="M552.3,9.41 L553.6,9.41" stroke="#3a3a3a" stroke-width="0.8"/>
<path d="M551.3,3.3 L553.6,3.3" stroke="#3a3a3a" stroke-width="0.9"/>
<text x="549.3" y="5.6" font-size="6.7" fill="#2a2a2a" stroke="#2a2a2a" stroke-width="0.17" text-anchor="end">75</text>
<text transform="translate(540.6,58.75) rotate(-90)" font-size="7.75" fill="#1a1a1a" stroke="#1a1a1a" stroke-width="0.25" text-anchor="middle">mAP</text>
<rect x="555.35" y="39.89" width="9.55" height="73.31" fill="#6fa8d2" stroke="#2a3e52" stroke-width="0.9"/>
<rect x="570.09" y="32.81" width="9.55" height="80.39" fill="#a9d8ea" stroke="#2f4650" stroke-width="0.9"/>
<rect x="584.83" y="32.57" width="9.55" height="80.63" fill="#dff1f8" stroke="#9aa6aa" stroke-width="0.9"/>
<rect x="599.57" y="67.98" width="9.55" height="45.22" fill="#f4e598" stroke="#4a4530" stroke-width="0.9"/>
<rect x="614.31" y="80.68" width="9.55" height="32.52" fill="#f9b97d" stroke="#4d3a2a" stroke-width="0.9"/>
<rect x="629.05" y="33.06" width="9.55" height="80.14" fill="#f78b77" stroke="#5e3e38" stroke-width="0.9"/>
<rect x="643.79" y="73.84" width="9.55" height="39.36" fill="#d96b8b" stroke="#4a2a35" stroke-width="0.9"/>
<rect x="658.53" y="35.99" width="9.55" height="77.21" fill="#a85a9c" stroke="#3a2040" stroke-width="0.9"/>
<rect x="673.27" y="22.07" width="9.55" height="91.13" fill="#5a4fa3" stroke="#221c45" stroke-width="0.9"/>
<path d="M589.61,12.81 L589.61,5.4 L678.04,5.4 L678.04,5.4" stroke="#505050" stroke-width="1.05" fill="none"/>
<text x="633.83" y="6.6" font-size="8" fill="#1a1a1a" stroke="#1a1a1a" stroke-width="0.2" text-anchor="middle" letter-spacing="0.8">***</text>
<path d="M560.12,22.84 L560.12,55.81 M557.33,22.84 L562.92,22.84 M557.33,55.81 L562.92,55.81" stroke="#2a2a2a" stroke-width="0.9" fill="none"/>
<path d="M574.87,16.73 L574.87,47.26 M572.07,16.73 L577.66,16.73 M572.07,47.26 L577.66,47.26" stroke="#2a2a2a" stroke-width="0.9" fill="none"/>
<path d="M589.61,15.51 L589.61,48.48 M586.81,15.51 L592.4,15.51 M586.81,48.48 L592.4,48.48" stroke="#2a2a2a" stroke-width="0.9" fill="none"/>
<path d="M604.35,52.14 L604.35,83.89 M601.55,52.14 L607.14,52.14 M601.55,83.89 L607.14,83.89" stroke="#2a2a2a" stroke-width="0.9" fill="none"/>
<path d="M619.09,65.58 L619.09,94.88 M616.29,65.58 L621.88,65.58 M616.29,94.88 L621.88,94.88" stroke="#2a2a2a" stroke-width="0.9" fill="none"/>
<path d="M633.83,17.46 L633.83,47.26 M631.03,17.46 L636.62,17.46 M631.03,47.26 L636.62,47.26" stroke="#2a2a2a" stroke-width="0.9" fill="none"/>
<path d="M648.56,58.49 L648.56,88.78 M645.76,58.49 L651.36,58.49 M645.76,88.78 L651.36,88.78" stroke="#2a2a2a" stroke-width="0.9" fill="none"/>
<path d="M663.3,20.15 L663.3,51.17 M660.5,20.15 L666.1,20.15 M660.5,51.17 L666.1,51.17" stroke="#2a2a2a" stroke-width="0.9" fill="none"/>
<path d="M678.04,5.74 L678.04,36.76 M675.25,5.74 L680.84,5.74 M675.25,36.76 L680.84,36.76" stroke="#2a2a2a" stroke-width="0.9" fill="none"/>
<path d="M392.3,133.5 L392.3,243.4 L523.5,243.4" stroke="#3a3a3a" stroke-width="1.05" fill="none"/>
<path d="M390,243.4 L392.3,243.4" stroke="#3a3a3a" stroke-width="0.9"/>
<text x="388" y="245.7" font-size="6.7" fill="#2a2a2a" stroke="#2a2a2a" stroke-width="0.17" text-anchor="end">28</text>
<path d="M391,236.53 L392.3,236.53" stroke="#3a3a3a" stroke-width="0.8"/>
<path d="M390,229.66 L392.3,229.66" stroke="#3a3a3a" stroke-width="0.9"/>
<text x="388" y="231.96" font-size="6.7" fill="#2a2a2a" stroke="#2a2a2a" stroke-width="0.17" text-anchor="end">30</text>
<path d="M391,222.79 L392.3,222.79" stroke="#3a3a3a" stroke-width="0.8"/>
<path d="M390,215.93 L392.3,215.93" stroke="#3a3a3a" stroke-width="0.9"/>
<text x="388" y="218.23" font-size="6.7" fill="#2a2a2a" stroke="#2a2a2a" stroke-width="0.17" text-anchor="end">32</text>
<path d="M391,209.06 L392.3,209.06" stroke="#3a3a3a" stroke-width="0.8"/>
<path d="M390,202.19 L392.3,202.19" stroke="#3a3a3a" stroke-width="0.9"/>
<text x="388" y="204.49" font-size="6.7" fill="#2a2a2a" stroke="#2a2a2a" stroke-width="0.17" text-anchor="end">34</text>
<path d="M391,195.32 L392.3,195.32" stroke="#3a3a3a" stroke-width="0.8"/>
<path d="M390,188.45 L392.3,188.45" stroke="#3a3a3a" stroke-width="0.9"/>
<text x="388" y="190.75" font-size="6.7" fill="#2a2a2a" stroke="#2a2a2a" stroke-width="0.17" text-anchor="end">36</text>
<path d="M391,181.58 L392.3,181.58" stroke="#3a3a3a" stroke-width="0.8"/>
<path d="M390,174.71 L392.3,174.71" stroke="#3a3a3a" stroke-width="0.9"/>
<text x="388" y="177.01" font-size="6.7" fill="#2a2a2a" stroke="#2a2a2a" stroke-width="0.17" text-anchor="end">38</text>
<path d="M391,167.84 L392.3,167.84" stroke="#3a3a3a" stroke-width="0.8"/>
<path d="M390,160.97 L392.3,160.97" stroke="#3a3a3a" stroke-width="0.9"/>
<text x="388" y="163.28" font-size="6.7" fill="#2a2a2a" stroke="#2a2a2a" stroke-width="0.17" text-anchor="end">40</text>
<path d="M391,154.11 L392.3,154.11" stroke="#3a3a3a" stroke-width="0.8"/>
<path d="M390,147.24 L392.3,147.24" stroke="#3a3a3a" stroke-width="0.9"/>
<text x="388" y="149.54" font-size="6.7" fill="#2a2a2a" stroke="#2a2a2a" stroke-width="0.17" text-anchor="end">42</text>
<path d="M391,140.37 L392.3,140.37" stroke="#3a3a3a" stroke-width="0.8"/>
<path d="M390,133.5 L392.3,133.5" stroke="#3a3a3a" stroke-width="0.9"/>
<text x="388" y="135.8" font-size="6.7" fill="#2a2a2a" stroke="#2a2a2a" stroke-width="0.17" text-anchor="end">44</text>
<text transform="translate(378.5,190.15) rotate(-90)" font-size="7.75" fill="#1a1a1a" stroke="#1a1a1a" stroke-width="0.25" text-anchor="middle">Triplet mAP</text>
<rect x="394.75" y="194.39" width="9.55" height="49.01" fill="#6fa8d2" stroke="#2a3e52" stroke-width="0.9"/>
<rect x="409.39" y="193.71" width="9.55" height="49.69" fill="#a9d8ea" stroke="#2f4650" stroke-width="0.9"/>
<rect x="424.03" y="231.49" width="9.55" height="11.91" fill="#dff1f8" stroke="#9aa6aa" stroke-width="0.9"/>
<rect x="438.67" y="206.07" width="9.55" height="37.33" fill="#f4e598" stroke="#4a4530" stroke-width="0.9"/>
<rect x="453.31" y="206.07" width="9.55" height="37.33" fill="#f9b97d" stroke="#4d3a2a" stroke-width="0.9"/>
<rect x="467.95" y="197.14" width="9.55" height="46.26" fill="#f78b77" stroke="#5e3e38" stroke-width="0.9"/>
<rect x="482.59" y="211.57" width="9.55" height="31.83" fill="#d96b8b" stroke="#4a2a35" stroke-width="0.9"/>
<rect x="497.23" y="193.71" width="9.55" height="49.69" fill="#a85a9c" stroke="#3a2040" stroke-width="0.9"/>
<rect x="511.87" y="154.56" width="9.55" height="88.84" fill="#5a4fa3" stroke="#221c45" stroke-width="0.9"/>
<path d="M414.17,181.63 L414.17,138.2 L516.64,138.2 L516.64,140.42" stroke="#505050" stroke-width="1.05" fill="none"/>
<text x="465.4" y="137.4" font-size="8" fill="#1a1a1a" stroke="#1a1a1a" stroke-width="0.2" text-anchor="middle" letter-spacing="0.8">***</text>
<path d="M399.53,184.33 L399.53,203.56 M396.73,184.33 L402.33,184.33 M396.73,203.56 L402.33,203.56" stroke="#2a2a2a" stroke-width="0.9" fill="none"/>
<path d="M414.17,184.33 L414.17,202.19 M411.37,184.33 L416.97,184.33 M411.37,202.19 L416.97,202.19" stroke="#2a2a2a" stroke-width="0.9" fill="none"/>
<path d="M428.81,222.11 L428.81,239.97 M426.01,222.11 L431.61,222.11 M426.01,239.97 L431.61,239.97" stroke="#2a2a2a" stroke-width="0.9" fill="none"/>
<path d="M443.45,197.38 L443.45,213.86 M440.65,197.38 L446.25,197.38 M440.65,213.86 L446.25,213.86" stroke="#2a2a2a" stroke-width="0.9" fill="none"/>
<path d="M458.09,197.38 L458.09,213.86 M455.29,197.38 L460.89,197.38 M455.29,213.86 L460.89,213.86" stroke="#2a2a2a" stroke-width="0.9" fill="none"/>
<path d="M472.73,187.76 L472.73,205.62 M469.93,187.76 L475.53,187.76 M469.93,205.62 L475.53,205.62" stroke="#2a2a2a" stroke-width="0.9" fill="none"/>
<path d="M487.37,202.87 L487.37,219.36 M484.56,202.87 L490.17,202.87 M484.56,219.36 L490.17,219.36" stroke="#2a2a2a" stroke-width="0.9" fill="none"/>
<path d="M502.01,184.33 L502.01,202.19 M499.21,184.33 L504.81,184.33 M499.21,202.19 L504.81,202.19" stroke="#2a2a2a" stroke-width="0.9" fill="none"/>
<path d="M516.64,143.12 L516.64,164.41 M513.85,143.12 L519.44,143.12 M513.85,164.41 L519.44,164.41" stroke="#2a2a2a" stroke-width="0.9" fill="none"/>
<path d="M553.6,133.5 L553.6,243.4 L685,243.4" stroke="#3a3a3a" stroke-width="1.05" fill="none"/>
<path d="M551.3,243.4 L553.6,243.4" stroke="#3a3a3a" stroke-width="0.9"/>
<text x="549.3" y="245.7" font-size="6.7" fill="#2a2a2a" stroke="#2a2a2a" stroke-width="0.17" text-anchor="end">30</text>
<path d="M552.3,236.53 L553.6,236.53" stroke="#3a3a3a" stroke-width="0.8"/>
<path d="M551.3,229.66 L553.6,229.66" stroke="#3a3a3a" stroke-width="0.9"/>
<text x="549.3" y="231.96" font-size="6.7" fill="#2a2a2a" stroke="#2a2a2a" stroke-width="0.17" text-anchor="end">32</text>
<path d="M552.3,222.79 L553.6,222.79" stroke="#3a3a3a" stroke-width="0.8"/>
<path d="M551.3,215.93 L553.6,215.93" stroke="#3a3a3a" stroke-width="0.9"/>
<text x="549.3" y="218.23" font-size="6.7" fill="#2a2a2a" stroke="#2a2a2a" stroke-width="0.17" text-anchor="end">34</text>
<path d="M552.3,209.06 L553.6,209.06" stroke="#3a3a3a" stroke-width="0.8"/>
<path d="M551.3,202.19 L553.6,202.19" stroke="#3a3a3a" stroke-width="0.9"/>
<text x="549.3" y="204.49" font-size="6.7" fill="#2a2a2a" stroke="#2a2a2a" stroke-width="0.17" text-anchor="end">36</text>
<path d="M552.3,195.32 L553.6,195.32" stroke="#3a3a3a" stroke-width="0.8"/>
<path d="M551.3,188.45 L553.6,188.45" stroke="#3a3a3a" stroke-width="0.9"/>
<text x="549.3" y="190.75" font-size="6.7" fill="#2a2a2a" stroke="#2a2a2a" stroke-width="0.17" text-anchor="end">38</text>
<path d="M552.3,181.58 L553.6,181.58" stroke="#3a3a3a" stroke-width="0.8"/>
<path d="M551.3,174.71 L553.6,174.71" stroke="#3a3a3a" stroke-width="0.9"/>
<text x="549.3" y="177.01" font-size="6.7" fill="#2a2a2a" stroke="#2a2a2a" stroke-width="0.17" text-anchor="end">40</text>
<path d="M552.3,167.84 L553.6,167.84" stroke="#3a3a3a" stroke-width="0.8"/>
<path d="M551.3,160.97 L553.6,160.97" stroke="#3a3a3a" stroke-width="0.9"/>
<text x="549.3" y="163.28" font-size="6.7" fill="#2a2a2a" stroke="#2a2a2a" stroke-width="0.17" text-anchor="end">42</text>
<path d="M552.3,154.11 L553.6,154.11" stroke="#3a3a3a" stroke-width="0.8"/>
<path d="M551.3,147.24 L553.6,147.24" stroke="#3a3a3a" stroke-width="0.9"/>
<text x="549.3" y="149.54" font-size="6.7" fill="#2a2a2a" stroke="#2a2a2a" stroke-width="0.17" text-anchor="end">44</text>
<path d="M552.3,140.37 L553.6,140.37" stroke="#3a3a3a" stroke-width="0.8"/>
<path d="M551.3,133.5 L553.6,133.5" stroke="#3a3a3a" stroke-width="0.9"/>
<text x="549.3" y="135.8" font-size="6.7" fill="#2a2a2a" stroke="#2a2a2a" stroke-width="0.17" text-anchor="end">46</text>
<text transform="translate(540.6,189.75) rotate(-90)" font-size="7.75" fill="#1a1a1a" stroke="#1a1a1a" stroke-width="0.25" text-anchor="middle">2-tuple mAP</text>
<rect x="555.35" y="196.46" width="9.55" height="46.94" fill="#6fa8d2" stroke="#2a3e52" stroke-width="0.9"/>
<rect x="570.09" y="187.53" width="9.55" height="55.87" fill="#a9d8ea" stroke="#2f4650" stroke-width="0.9"/>
<rect x="584.83" y="215.69" width="9.55" height="27.71" fill="#dff1f8" stroke="#9aa6aa" stroke-width="0.9"/>
<rect x="599.57" y="193.71" width="9.55" height="49.69" fill="#f4e598" stroke="#4a4530" stroke-width="0.9"/>
<rect x="614.31" y="219.81" width="9.55" height="23.59" fill="#f9b97d" stroke="#4d3a2a" stroke-width="0.9"/>
<rect x="629.05" y="186.84" width="9.55" height="56.56" fill="#f78b77" stroke="#5e3e38" stroke-width="0.9"/>
<rect x="643.79" y="223.93" width="9.55" height="19.47" fill="#d96b8b" stroke="#4a2a35" stroke-width="0.9"/>
<rect x="658.53" y="195.77" width="9.55" height="47.63" fill="#a85a9c" stroke="#3a2040" stroke-width="0.9"/>
<rect x="673.27" y="155.24" width="9.55" height="88.16" fill="#5a4fa3" stroke="#221c45" stroke-width="0.9"/>
<path d="M633.83,174.07 L633.83,137.1 L678.04,137.1 L678.04,138.36" stroke="#505050" stroke-width="1.05" fill="none"/>
<text x="655.93" y="137.3" font-size="8" fill="#1a1a1a" stroke="#1a1a1a" stroke-width="0.2" text-anchor="middle" letter-spacing="0.8">***</text>
<path d="M560.12,186.39 L560.12,206.31 M557.33,186.39 L562.92,186.39 M557.33,206.31 L562.92,206.31" stroke="#2a2a2a" stroke-width="0.9" fill="none"/>
<path d="M574.87,176.09 L574.87,198.07 M572.07,176.09 L577.66,176.09 M572.07,198.07 L577.66,198.07" stroke="#2a2a2a" stroke-width="0.9" fill="none"/>
<path d="M589.61,206.31 L589.61,224.85 M586.81,206.31 L592.4,206.31 M586.81,224.85 L592.4,224.85" stroke="#2a2a2a" stroke-width="0.9" fill="none"/>
<path d="M604.35,183.64 L604.35,202.87 M601.55,183.64 L607.14,183.64 M601.55,202.87 L607.14,202.87" stroke="#2a2a2a" stroke-width="0.9" fill="none"/>
<path d="M619.09,211.12 L619.09,227.6 M616.29,211.12 L621.88,211.12 M616.29,227.6 L621.88,227.6" stroke="#2a2a2a" stroke-width="0.9" fill="none"/>
<path d="M633.83,176.77 L633.83,196.01 M631.03,176.77 L636.62,176.77 M631.03,196.01 L636.62,196.01" stroke="#2a2a2a" stroke-width="0.9" fill="none"/>
<path d="M648.56,215.93 L648.56,231.04 M645.76,215.93 L651.36,215.93 M645.76,231.04 L651.36,231.04" stroke="#2a2a2a" stroke-width="0.9" fill="none"/>
<path d="M663.3,186.39 L663.3,204.25 M660.5,186.39 L666.1,186.39 M660.5,204.25 L666.1,204.25" stroke="#2a2a2a" stroke-width="0.9" fill="none"/>
<path d="M678.04,141.06 L678.04,167.84 M675.25,141.06 L680.84,141.06 M675.25,167.84 L680.84,167.84" stroke="#2a2a2a" stroke-width="0.9" fill="none"/>
<path d="M392.3,263.8 L392.3,373.7 L523.5,373.7" stroke="#3a3a3a" stroke-width="1.05" fill="none"/>
<path d="M390,373.7 L392.3,373.7" stroke="#3a3a3a" stroke-width="0.9"/>
<text x="388" y="376" font-size="6.7" fill="#2a2a2a" stroke="#2a2a2a" stroke-width="0.17" text-anchor="end">9</text>
<path d="M391,366.83 L392.3,366.83" stroke="#3a3a3a" stroke-width="0.8"/>
<path d="M390,359.96 L392.3,359.96" stroke="#3a3a3a" stroke-width="0.9"/>
<text x="388" y="362.26" font-size="6.7" fill="#2a2a2a" stroke="#2a2a2a" stroke-width="0.17" text-anchor="end">12</text>
<path d="M391,353.09 L392.3,353.09" stroke="#3a3a3a" stroke-width="0.8"/>
<path d="M390,346.22 L392.3,346.22" stroke="#3a3a3a" stroke-width="0.9"/>
<text x="388" y="348.52" font-size="6.7" fill="#2a2a2a" stroke="#2a2a2a" stroke-width="0.17" text-anchor="end">15</text>
<path d="M391,339.36 L392.3,339.36" stroke="#3a3a3a" stroke-width="0.8"/>
<path d="M390,332.49 L392.3,332.49" stroke="#3a3a3a" stroke-width="0.9"/>
<text x="388" y="334.79" font-size="6.7" fill="#2a2a2a" stroke="#2a2a2a" stroke-width="0.17" text-anchor="end">18</text>
<path d="M391,325.62 L392.3,325.62" stroke="#3a3a3a" stroke-width="0.8"/>
<path d="M390,318.75 L392.3,318.75" stroke="#3a3a3a" stroke-width="0.9"/>
<text x="388" y="321.05" font-size="6.7" fill="#2a2a2a" stroke="#2a2a2a" stroke-width="0.17" text-anchor="end">21</text>
<path d="M391,311.88 L392.3,311.88" stroke="#3a3a3a" stroke-width="0.8"/>
<path d="M390,305.01 L392.3,305.01" stroke="#3a3a3a" stroke-width="0.9"/>
<text x="388" y="307.31" font-size="6.7" fill="#2a2a2a" stroke="#2a2a2a" stroke-width="0.17" text-anchor="end">24</text>
<path d="M391,298.14 L392.3,298.14" stroke="#3a3a3a" stroke-width="0.8"/>
<path d="M390,291.27 L392.3,291.27" stroke="#3a3a3a" stroke-width="0.9"/>
<text x="388" y="293.57" font-size="6.7" fill="#2a2a2a" stroke="#2a2a2a" stroke-width="0.17" text-anchor="end">27</text>
<path d="M391,284.41 L392.3,284.41" stroke="#3a3a3a" stroke-width="0.8"/>
<path d="M390,277.54 L392.3,277.54" stroke="#3a3a3a" stroke-width="0.9"/>
<text x="388" y="279.84" font-size="6.7" fill="#2a2a2a" stroke="#2a2a2a" stroke-width="0.17" text-anchor="end">30</text>
<path d="M391,270.67 L392.3,270.67" stroke="#3a3a3a" stroke-width="0.8"/>
<path d="M390,263.8 L392.3,263.8" stroke="#3a3a3a" stroke-width="0.9"/>
<text x="388" y="266.1" font-size="6.7" fill="#2a2a2a" stroke="#2a2a2a" stroke-width="0.17" text-anchor="end">33</text>
<text transform="translate(378.5,320.45) rotate(-90)" font-size="7.75" fill="#1a1a1a" stroke="#1a1a1a" stroke-width="0.25" text-anchor="middle">Triplet mAP</text>
<rect x="394.75" y="318.28" width="9.55" height="55.42" fill="#6fa8d2" stroke="#2a3e52" stroke-width="0.9"/>
<rect x="409.39" y="318.28" width="9.55" height="55.42" fill="#a9d8ea" stroke="#2f4650" stroke-width="0.9"/>
<rect x="424.03" y="357.21" width="9.55" height="16.49" fill="#dff1f8" stroke="#9aa6aa" stroke-width="0.9"/>
<rect x="438.67" y="341.18" width="9.55" height="32.52" fill="#f4e598" stroke="#4a4530" stroke-width="0.9"/>
<rect x="453.31" y="344.84" width="9.55" height="28.86" fill="#f9b97d" stroke="#4d3a2a" stroke-width="0.9"/>
<rect x="467.95" y="349.42" width="9.55" height="24.28" fill="#f78b77" stroke="#5e3e38" stroke-width="0.9"/>
<rect x="482.59" y="325.15" width="9.55" height="48.55" fill="#d96b8b" stroke="#4a2a35" stroke-width="0.9"/>
<rect x="497.23" y="322.86" width="9.55" height="50.84" fill="#a85a9c" stroke="#3a2040" stroke-width="0.9"/>
<rect x="511.87" y="281.19" width="9.55" height="92.51" fill="#5a4fa3" stroke="#221c45" stroke-width="0.9"/>
<path d="M399.53,312.39 L399.53,269.2 L516.64,269.2 L516.64,273.92" stroke="#505050" stroke-width="1.05" fill="none"/>
<text x="458.09" y="268" font-size="8" fill="#1a1a1a" stroke="#1a1a1a" stroke-width="0.2" text-anchor="middle" letter-spacing="0.8">***</text>
<path d="M399.53,315.09 L399.53,320.58 M396.73,315.09 L402.33,315.09 M396.73,320.58 L402.33,320.58" stroke="#2a2a2a" stroke-width="0.9" fill="none"/>
<path d="M414.17,315.09 L414.17,321.04 M411.37,315.09 L416.97,315.09 M411.37,321.04 L416.97,321.04" stroke="#2a2a2a" stroke-width="0.9" fill="none"/>
<path d="M428.81,355.38 L428.81,358.13 M426.01,355.38 L431.61,355.38 M426.01,358.13 L431.61,358.13" stroke="#2a2a2a" stroke-width="0.9" fill="none"/>
<path d="M443.45,338.9 L443.45,343.02 M440.65,338.9 L446.25,338.9 M440.65,343.02 L446.25,343.02" stroke="#2a2a2a" stroke-width="0.9" fill="none"/>
<path d="M458.09,342.1 L458.09,347.14 M455.29,342.1 L460.89,342.1 M455.29,347.14 L460.89,347.14" stroke="#2a2a2a" stroke-width="0.9" fill="none"/>
<path d="M472.73,346.68 L472.73,351.26 M469.93,346.68 L475.53,346.68 M469.93,351.26 L475.53,351.26" stroke="#2a2a2a" stroke-width="0.9" fill="none"/>
<path d="M487.37,322.41 L487.37,326.99 M484.56,322.41 L490.17,322.41 M484.56,326.99 L490.17,326.99" stroke="#2a2a2a" stroke-width="0.9" fill="none"/>
<path d="M502.01,320.12 L502.01,325.16 M499.21,320.12 L504.81,320.12 M499.21,325.16 L504.81,325.16" stroke="#2a2a2a" stroke-width="0.9" fill="none"/>
<path d="M516.64,276.62 L516.64,284.41 M513.85,276.62 L519.44,276.62 M513.85,284.41 L519.44,284.41" stroke="#2a2a2a" stroke-width="0.9" fill="none"/>
<path d="M553.6,263.8 L553.6,373.7 L685,373.7" stroke="#3a3a3a" stroke-width="1.05" fill="none"/>
<path d="M551.3,373.7 L553.6,373.7" stroke="#3a3a3a" stroke-width="0.9"/>
<text x="549.3" y="376" font-size="6.7" fill="#2a2a2a" stroke="#2a2a2a" stroke-width="0.17" text-anchor="end">15</text>
<path d="M552.3,364.54 L553.6,364.54" stroke="#3a3a3a" stroke-width="0.8"/>
<path d="M551.3,355.38 L553.6,355.38" stroke="#3a3a3a" stroke-width="0.9"/>
<text x="549.3" y="357.68" font-size="6.7" fill="#2a2a2a" stroke="#2a2a2a" stroke-width="0.17" text-anchor="end">20</text>
<path d="M552.3,346.22 L553.6,346.22" stroke="#3a3a3a" stroke-width="0.8"/>
<path d="M551.3,337.07 L553.6,337.07" stroke="#3a3a3a" stroke-width="0.9"/>
<text x="549.3" y="339.37" font-size="6.7" fill="#2a2a2a" stroke="#2a2a2a" stroke-width="0.17" text-anchor="end">25</text>
<path d="M552.3,327.91 L553.6,327.91" stroke="#3a3a3a" stroke-width="0.8"/>
<path d="M551.3,318.75 L553.6,318.75" stroke="#3a3a3a" stroke-width="0.9"/>
<text x="549.3" y="321.05" font-size="6.7" fill="#2a2a2a" stroke="#2a2a2a" stroke-width="0.17" text-anchor="end">30</text>
<path d="M552.3,309.59 L553.6,309.59" stroke="#3a3a3a" stroke-width="0.8"/>
<path d="M551.3,300.43 L553.6,300.43" stroke="#3a3a3a" stroke-width="0.9"/>
<text x="549.3" y="302.73" font-size="6.7" fill="#2a2a2a" stroke="#2a2a2a" stroke-width="0.17" text-anchor="end">35</text>
<path d="M552.3,291.27 L553.6,291.27" stroke="#3a3a3a" stroke-width="0.8"/>
<path d="M551.3,282.12 L553.6,282.12" stroke="#3a3a3a" stroke-width="0.9"/>
<text x="549.3" y="284.42" font-size="6.7" fill="#2a2a2a" stroke="#2a2a2a" stroke-width="0.17" text-anchor="end">40</text>
<path d="M552.3,272.96 L553.6,272.96" stroke="#3a3a3a" stroke-width="0.8"/>
<path d="M551.3,263.8 L553.6,263.8" stroke="#3a3a3a" stroke-width="0.9"/>
<text x="549.3" y="266.1" font-size="6.7" fill="#2a2a2a" stroke="#2a2a2a" stroke-width="0.17" text-anchor="end">45</text>
<text transform="translate(540.6,320.05) rotate(-90)" font-size="7.75" fill="#1a1a1a" stroke="#1a1a1a" stroke-width="0.25" text-anchor="middle">2-tuple mAP</text>
<rect x="555.35" y="305.65" width="9.55" height="68.05" fill="#6fa8d2" stroke="#2a3e52" stroke-width="0.9"/>
<rect x="570.09" y="314.44" width="9.55" height="59.26" fill="#a9d8ea" stroke="#2f4650" stroke-width="0.9"/>
<rect x="584.83" y="358.76" width="9.55" height="14.94" fill="#dff1f8" stroke="#9aa6aa" stroke-width="0.9"/>
<rect x="599.57" y="336.05" width="9.55" height="37.65" fill="#f4e598" stroke="#4a4530" stroke-width="0.9"/>
<rect x="614.31" y="343.38" width="9.55" height="30.32" fill="#f9b97d" stroke="#4d3a2a" stroke-width="0.9"/>
<rect x="629.05" y="344.11" width="9.55" height="29.59" fill="#f78b77" stroke="#5e3e38" stroke-width="0.9"/>
<rect x="643.79" y="315.17" width="9.55" height="58.53" fill="#d96b8b" stroke="#4a2a35" stroke-width="0.9"/>
<rect x="658.53" y="317.37" width="9.55" height="56.33" fill="#a85a9c" stroke="#3a2040" stroke-width="0.9"/>
<rect x="673.27" y="284.4" width="9.55" height="89.3" fill="#5a4fa3" stroke="#221c45" stroke-width="0.9"/>
<path d="M560.12,299.93 L560.12,271.2 L678.04,271.2 L678.04,278.32" stroke="#505050" stroke-width="1.05" fill="none"/>
<text x="619.09" y="268.9" font-size="8" fill="#1a1a1a" stroke="#1a1a1a" stroke-width="0.2" text-anchor="middle" letter-spacing="0.8">***</text>
<path d="M560.12,302.63 L560.12,307.76 M557.33,302.63 L562.92,302.63 M557.33,307.76 L562.92,307.76" stroke="#2a2a2a" stroke-width="0.9" fill="none"/>
<path d="M574.87,311.42 L574.87,316.55 M572.07,311.42 L577.66,311.42 M572.07,316.55 L577.66,316.55" stroke="#2a2a2a" stroke-width="0.9" fill="none"/>
<path d="M589.61,356.85 L589.61,359.41 M586.81,356.85 L592.4,356.85 M586.81,359.41 L592.4,359.41" stroke="#2a2a2a" stroke-width="0.9" fill="none"/>
<path d="M604.35,333.77 L604.35,337.8 M601.55,333.77 L607.14,333.77 M601.55,337.8 L607.14,337.8" stroke="#2a2a2a" stroke-width="0.9" fill="none"/>
<path d="M619.09,341.1 L619.09,344.76 M616.29,341.1 L621.88,341.1 M616.29,344.76 L621.88,344.76" stroke="#2a2a2a" stroke-width="0.9" fill="none"/>
<path d="M633.83,341.83 L633.83,345.49 M631.03,341.83 L636.62,341.83 M631.03,345.49 L636.62,345.49" stroke="#2a2a2a" stroke-width="0.9" fill="none"/>
<path d="M648.56,312.16 L648.56,317.28 M645.76,312.16 L651.36,312.16 M645.76,317.28 L651.36,317.28" stroke="#2a2a2a" stroke-width="0.9" fill="none"/>
<path d="M663.3,314.35 L663.3,319.12 M660.5,314.35 L666.1,314.35 M660.5,319.12 L666.1,319.12" stroke="#2a2a2a" stroke-width="0.9" fill="none"/>
<path d="M678.04,281.02 L678.04,286.51 M675.25,281.02 L680.84,281.02 M675.25,286.51 L680.84,286.51" stroke="#2a2a2a" stroke-width="0.9" fill="none"/>
<path d="M392.3,394.4 L392.3,504.3 L523.5,504.3" stroke="#3a3a3a" stroke-width="1.05" fill="none"/>
<path d="M390,504.3 L392.3,504.3" stroke="#3a3a3a" stroke-width="0.9"/>
<text x="388" y="506.6" font-size="6.7" fill="#2a2a2a" stroke="#2a2a2a" stroke-width="0.17" text-anchor="end">35</text>
<path d="M391,496.45 L392.3,496.45" stroke="#3a3a3a" stroke-width="0.8"/>
<path d="M390,488.6 L392.3,488.6" stroke="#3a3a3a" stroke-width="0.9"/>
<text x="388" y="490.9" font-size="6.7" fill="#2a2a2a" stroke="#2a2a2a" stroke-width="0.17" text-anchor="end">40</text>
<path d="M391,480.75 L392.3,480.75" stroke="#3a3a3a" stroke-width="0.8"/>
<path d="M390,472.9 L392.3,472.9" stroke="#3a3a3a" stroke-width="0.9"/>
<text x="388" y="475.2" font-size="6.7" fill="#2a2a2a" stroke="#2a2a2a" stroke-width="0.17" text-anchor="end">45</text>
<path d="M391,465.05 L392.3,465.05" stroke="#3a3a3a" stroke-width="0.8"/>
<path d="M390,457.2 L392.3,457.2" stroke="#3a3a3a" stroke-width="0.9"/>
<text x="388" y="459.5" font-size="6.7" fill="#2a2a2a" stroke="#2a2a2a" stroke-width="0.17" text-anchor="end">50</text>
<path d="M391,449.35 L392.3,449.35" stroke="#3a3a3a" stroke-width="0.8"/>
<path d="M390,441.5 L392.3,441.5" stroke="#3a3a3a" stroke-width="0.9"/>
<text x="388" y="443.8" font-size="6.7" fill="#2a2a2a" stroke="#2a2a2a" stroke-width="0.17" text-anchor="end">55</text>
<path d="M391,433.65 L392.3,433.65" stroke="#3a3a3a" stroke-width="0.8"/>
<path d="M390,425.8 L392.3,425.8" stroke="#3a3a3a" stroke-width="0.9"/>
<text x="388" y="428.1" font-size="6.7" fill="#2a2a2a" stroke="#2a2a2a" stroke-width="0.17" text-anchor="end">60</text>
<path d="M391,417.95 L392.3,417.95" stroke="#3a3a3a" stroke-width="0.8"/>
<path d="M390,410.1 L392.3,410.1" stroke="#3a3a3a" stroke-width="0.9"/>
<text x="388" y="412.4" font-size="6.7" fill="#2a2a2a" stroke="#2a2a2a" stroke-width="0.17" text-anchor="end">65</text>
<path d="M391,402.25 L392.3,402.25" stroke="#3a3a3a" stroke-width="0.8"/>
<path d="M390,394.4 L392.3,394.4" stroke="#3a3a3a" stroke-width="0.9"/>
<text x="388" y="396.7" font-size="6.7" fill="#2a2a2a" stroke="#2a2a2a" stroke-width="0.17" text-anchor="end">70</text>
<text transform="translate(378.5,451.05) rotate(-90)" font-size="7.75" fill="#1a1a1a" stroke="#1a1a1a" stroke-width="0.25" text-anchor="middle">Accuracy</text>
<rect x="394.75" y="475.55" width="9.55" height="28.75" fill="#6fa8d2" stroke="#2a3e52" stroke-width="0.9"/>
<rect x="409.39" y="470.21" width="9.55" height="34.09" fill="#a9d8ea" stroke="#2f4650" stroke-width="0.9"/>
<rect x="424.03" y="447.6" width="9.55" height="56.7" fill="#dff1f8" stroke="#9aa6aa" stroke-width="0.9"/>
<rect x="438.67" y="468.01" width="9.55" height="36.29" fill="#f4e598" stroke="#4a4530" stroke-width="0.9"/>
<rect x="453.31" y="459.53" width="9.55" height="44.77" fill="#f9b97d" stroke="#4d3a2a" stroke-width="0.9"/>
<rect x="467.95" y="466.13" width="9.55" height="38.17" fill="#f78b77" stroke="#5e3e38" stroke-width="0.9"/>
<rect x="482.59" y="475.55" width="9.55" height="28.75" fill="#d96b8b" stroke="#4a2a35" stroke-width="0.9"/>
<rect x="497.23" y="451.06" width="9.55" height="53.24" fill="#a85a9c" stroke="#3a2040" stroke-width="0.9"/>
<rect x="511.87" y="425.31" width="9.55" height="78.99" fill="#5a4fa3" stroke="#221c45" stroke-width="0.9"/>
<path d="M428.81,431.26 L428.81,399.8 L516.64,399.8 L516.64,408.66" stroke="#505050" stroke-width="1.05" fill="none"/>
<text x="472.73" y="399" font-size="8" fill="#1a1a1a" stroke="#1a1a1a" stroke-width="0.2" text-anchor="middle" letter-spacing="0.8">***</text>
<path d="M399.53,461.28 L399.53,487.97 M396.73,461.28 L402.33,461.28 M396.73,487.97 L402.33,487.97" stroke="#2a2a2a" stroke-width="0.9" fill="none"/>
<path d="M414.17,456.57 L414.17,482.95 M411.37,456.57 L416.97,456.57 M411.37,482.95 L416.97,482.95" stroke="#2a2a2a" stroke-width="0.9" fill="none"/>
<path d="M428.81,433.96 L428.81,460.34 M426.01,433.96 L431.61,433.96 M426.01,460.34 L431.61,460.34" stroke="#2a2a2a" stroke-width="0.9" fill="none"/>
<path d="M443.45,455 L443.45,480.44 M440.65,455 L446.25,455 M440.65,480.44 L446.25,480.44" stroke="#2a2a2a" stroke-width="0.9" fill="none"/>
<path d="M458.09,445.9 L458.09,471.96 M455.29,445.9 L460.89,445.9 M455.29,471.96 L460.89,471.96" stroke="#2a2a2a" stroke-width="0.9" fill="none"/>
<path d="M472.73,452.18 L472.73,479.18 M469.93,452.18 L475.53,452.18 M469.93,479.18 L475.53,479.18" stroke="#2a2a2a" stroke-width="0.9" fill="none"/>
<path d="M487.37,461.28 L487.37,487.97 M484.56,461.28 L490.17,461.28 M484.56,487.97 L490.17,487.97" stroke="#2a2a2a" stroke-width="0.9" fill="none"/>
<path d="M502.01,437.73 L502.01,463.48 M499.21,437.73 L504.81,437.73 M499.21,463.48 L504.81,463.48" stroke="#2a2a2a" stroke-width="0.9" fill="none"/>
<path d="M516.64,411.36 L516.64,437.73 M513.85,411.36 L519.44,411.36 M513.85,437.73 L519.44,437.73" stroke="#2a2a2a" stroke-width="0.9" fill="none"/>
<path d="M553.6,394.4 L553.6,504.3 L685,504.3" stroke="#3a3a3a" stroke-width="1.05" fill="none"/>
<path d="M551.3,504.3 L553.6,504.3" stroke="#3a3a3a" stroke-width="0.9"/>
<text x="549.3" y="506.6" font-size="6.7" fill="#2a2a2a" stroke="#2a2a2a" stroke-width="0.17" text-anchor="end">16</text>
<path d="M552.3,495.14 L553.6,495.14" stroke="#3a3a3a" stroke-width="0.8"/>
<path d="M551.3,485.98 L553.6,485.98" stroke="#3a3a3a" stroke-width="0.9"/>
<text x="549.3" y="488.28" font-size="6.7" fill="#2a2a2a" stroke="#2a2a2a" stroke-width="0.17" text-anchor="end">20</text>
<path d="M552.3,476.82 L553.6,476.82" stroke="#3a3a3a" stroke-width="0.8"/>
<path d="M551.3,467.67 L553.6,467.67" stroke="#3a3a3a" stroke-width="0.9"/>
<text x="549.3" y="469.97" font-size="6.7" fill="#2a2a2a" stroke="#2a2a2a" stroke-width="0.17" text-anchor="end">24</text>
<path d="M552.3,458.51 L553.6,458.51" stroke="#3a3a3a" stroke-width="0.8"/>
<path d="M551.3,449.35 L553.6,449.35" stroke="#3a3a3a" stroke-width="0.9"/>
<text x="549.3" y="451.65" font-size="6.7" fill="#2a2a2a" stroke="#2a2a2a" stroke-width="0.17" text-anchor="end">28</text>
<path d="M552.3,440.19 L553.6,440.19" stroke="#3a3a3a" stroke-width="0.8"/>
<path d="M551.3,431.03 L553.6,431.03" stroke="#3a3a3a" stroke-width="0.9"/>
<text x="549.3" y="433.33" font-size="6.7" fill="#2a2a2a" stroke="#2a2a2a" stroke-width="0.17" text-anchor="end">32</text>
<path d="M552.3,421.88 L553.6,421.88" stroke="#3a3a3a" stroke-width="0.8"/>
<path d="M551.3,412.72 L553.6,412.72" stroke="#3a3a3a" stroke-width="0.9"/>
<text x="549.3" y="415.02" font-size="6.7" fill="#2a2a2a" stroke="#2a2a2a" stroke-width="0.17" text-anchor="end">36</text>
<path d="M552.3,403.56 L553.6,403.56" stroke="#3a3a3a" stroke-width="0.8"/>
<path d="M551.3,394.4 L553.6,394.4" stroke="#3a3a3a" stroke-width="0.9"/>
<text x="549.3" y="396.7" font-size="6.7" fill="#2a2a2a" stroke="#2a2a2a" stroke-width="0.17" text-anchor="end">40</text>
<text transform="translate(540.6,449.85) rotate(-90)" font-size="7.75" fill="#1a1a1a" stroke="#1a1a1a" stroke-width="0.25" text-anchor="middle">mAP</text>
<rect x="555.35" y="482.77" width="9.55" height="21.53" fill="#6fa8d2" stroke="#2a3e52" stroke-width="0.9"/>
<rect x="570.09" y="459.42" width="9.55" height="44.88" fill="#a9d8ea" stroke="#2f4650" stroke-width="0.9"/>
<rect x="584.83" y="445.22" width="9.55" height="59.08" fill="#dff1f8" stroke="#9aa6aa" stroke-width="0.9"/>
<rect x="599.57" y="441.56" width="9.55" height="62.74" fill="#f4e598" stroke="#4a4530" stroke-width="0.9"/>
<rect x="614.31" y="454.38" width="9.55" height="49.92" fill="#f9b97d" stroke="#4d3a2a" stroke-width="0.9"/>
<rect x="629.05" y="456.67" width="9.55" height="47.63" fill="#f78b77" stroke="#5e3e38" stroke-width="0.9"/>
<rect x="643.79" y="470.41" width="9.55" height="33.89" fill="#d96b8b" stroke="#4a2a35" stroke-width="0.9"/>
<rect x="658.53" y="450.72" width="9.55" height="53.58" fill="#a85a9c" stroke="#3a2040" stroke-width="0.9"/>
<rect x="673.27" y="425.53" width="9.55" height="78.77" fill="#5a4fa3" stroke="#221c45" stroke-width="0.9"/>
<path d="M604.35,427.83 L604.35,402.1 L678.04,402.1 L678.04,412.31" stroke="#505050" stroke-width="1.05" fill="none"/>
<text x="641.19" y="399.6" font-size="8" fill="#1a1a1a" stroke="#1a1a1a" stroke-width="0.2" text-anchor="middle" letter-spacing="0.8">***</text>
<path d="M560.12,474.08 L560.12,491.02 M557.33,474.08 L562.92,474.08 M557.33,491.02 L562.92,491.02" stroke="#2a2a2a" stroke-width="0.9" fill="none"/>
<path d="M574.87,449.35 L574.87,468.12 M572.07,449.35 L577.66,449.35 M572.07,468.12 L577.66,468.12" stroke="#2a2a2a" stroke-width="0.9" fill="none"/>
<path d="M589.61,436.07 L589.61,453.47 M586.81,436.07 L592.4,436.07 M586.81,453.47 L592.4,453.47" stroke="#2a2a2a" stroke-width="0.9" fill="none"/>
<path d="M604.35,427.83 L604.35,454.39 M601.55,427.83 L607.14,427.83 M601.55,454.39 L607.14,454.39" stroke="#2a2a2a" stroke-width="0.9" fill="none"/>
<path d="M619.09,445.23 L619.09,462.17 M616.29,445.23 L621.88,445.23 M616.29,462.17 L621.88,462.17" stroke="#2a2a2a" stroke-width="0.9" fill="none"/>
<path d="M633.83,448.43 L633.83,464.46 M631.03,448.43 L636.62,448.43 M631.03,464.46 L636.62,464.46" stroke="#2a2a2a" stroke-width="0.9" fill="none"/>
<path d="M648.56,460.34 L648.56,479.57 M645.76,460.34 L651.36,460.34 M645.76,479.57 L651.36,479.57" stroke="#2a2a2a" stroke-width="0.9" fill="none"/>
<path d="M663.3,441.11 L663.3,458.51 M660.5,441.11 L666.1,441.11 M660.5,458.51 L666.1,458.51" stroke="#2a2a2a" stroke-width="0.9" fill="none"/>
<path d="M678.04,415.01 L678.04,435.15 M675.25,415.01 L680.84,415.01 M675.25,435.15 L680.84,435.15" stroke="#2a2a2a" stroke-width="0.9" fill="none"/>
<path d="M392.3,527.3 L392.3,637.2 L523.5,637.2" stroke="#3a3a3a" stroke-width="1.05" fill="none"/>
<path d="M390,637.2 L392.3,637.2" stroke="#3a3a3a" stroke-width="0.9"/>
<text x="388" y="639.5" font-size="6.7" fill="#2a2a2a" stroke="#2a2a2a" stroke-width="0.17" text-anchor="end">42</text>
<path d="M391,628.04 L392.3,628.04" stroke="#3a3a3a" stroke-width="0.8"/>
<path d="M390,618.88 L392.3,618.88" stroke="#3a3a3a" stroke-width="0.9"/>
<text x="388" y="621.18" font-size="6.7" fill="#2a2a2a" stroke="#2a2a2a" stroke-width="0.17" text-anchor="end">43</text>
<path d="M391,609.73 L392.3,609.73" stroke="#3a3a3a" stroke-width="0.8"/>
<path d="M390,600.57 L392.3,600.57" stroke="#3a3a3a" stroke-width="0.9"/>
<text x="388" y="602.87" font-size="6.7" fill="#2a2a2a" stroke="#2a2a2a" stroke-width="0.17" text-anchor="end">44</text>
<path d="M391,591.41 L392.3,591.41" stroke="#3a3a3a" stroke-width="0.8"/>
<path d="M390,582.25 L392.3,582.25" stroke="#3a3a3a" stroke-width="0.9"/>
<text x="388" y="584.55" font-size="6.7" fill="#2a2a2a" stroke="#2a2a2a" stroke-width="0.17" text-anchor="end">45</text>
<path d="M391,573.09 L392.3,573.09" stroke="#3a3a3a" stroke-width="0.8"/>
<path d="M390,563.93 L392.3,563.93" stroke="#3a3a3a" stroke-width="0.9"/>
<text x="388" y="566.23" font-size="6.7" fill="#2a2a2a" stroke="#2a2a2a" stroke-width="0.17" text-anchor="end">46</text>
<path d="M391,554.78 L392.3,554.78" stroke="#3a3a3a" stroke-width="0.8"/>
<path d="M390,545.62 L392.3,545.62" stroke="#3a3a3a" stroke-width="0.9"/>
<text x="388" y="547.92" font-size="6.7" fill="#2a2a2a" stroke="#2a2a2a" stroke-width="0.17" text-anchor="end">47</text>
<path d="M391,536.46 L392.3,536.46" stroke="#3a3a3a" stroke-width="0.8"/>
<path d="M390,527.3 L392.3,527.3" stroke="#3a3a3a" stroke-width="0.9"/>
<text x="388" y="529.6" font-size="6.7" fill="#2a2a2a" stroke="#2a2a2a" stroke-width="0.17" text-anchor="end">48</text>
<text transform="translate(378.5,583.95) rotate(-90)" font-size="7.75" fill="#1a1a1a" stroke="#1a1a1a" stroke-width="0.25" text-anchor="middle">Accuracy</text>
<rect x="394.75" y="594.24" width="9.55" height="42.96" fill="#6fa8d2" stroke="#2a3e52" stroke-width="0.9"/>
<rect x="409.39" y="588.74" width="9.55" height="48.46" fill="#a9d8ea" stroke="#2f4650" stroke-width="0.9"/>
<rect x="424.03" y="569.51" width="9.55" height="67.69" fill="#dff1f8" stroke="#9aa6aa" stroke-width="0.9"/>
<rect x="438.67" y="576.29" width="9.55" height="60.91" fill="#f4e598" stroke="#4a4530" stroke-width="0.9"/>
<rect x="453.31" y="575.74" width="9.55" height="61.46" fill="#f9b97d" stroke="#4d3a2a" stroke-width="0.9"/>
<rect x="467.95" y="548.81" width="9.55" height="88.39" fill="#f78b77" stroke="#5e3e38" stroke-width="0.9"/>
<rect x="482.59" y="601.57" width="9.55" height="35.63" fill="#d96b8b" stroke="#4a2a35" stroke-width="0.9"/>
<rect x="497.23" y="569.33" width="9.55" height="67.87" fill="#a85a9c" stroke="#3a2040" stroke-width="0.9"/>
<rect x="511.87" y="547.53" width="9.55" height="89.67" fill="#5a4fa3" stroke="#221c45" stroke-width="0.9"/>
<path d="M472.73,537.42 L472.73,530.3 L516.64,530.3 L516.64,536.51" stroke="#505050" stroke-width="1.05" fill="none"/>
<text x="494.69" y="531.1" font-size="8" fill="#1a1a1a" stroke="#1a1a1a" stroke-width="0.2" text-anchor="middle" letter-spacing="0.8">***</text>
<path d="M399.53,585.91 L399.53,601.48 M396.73,585.91 L402.33,585.91 M396.73,601.48 L402.33,601.48" stroke="#2a2a2a" stroke-width="0.9" fill="none"/>
<path d="M414.17,580.42 L414.17,596.9 M411.37,580.42 L416.97,580.42 M411.37,596.9 L416.97,596.9" stroke="#2a2a2a" stroke-width="0.9" fill="none"/>
<path d="M428.81,561.19 L428.81,576.76 M426.01,561.19 L431.61,561.19 M426.01,576.76 L431.61,576.76" stroke="#2a2a2a" stroke-width="0.9" fill="none"/>
<path d="M443.45,567.96 L443.45,583.17 M440.65,567.96 L446.25,567.96 M440.65,583.17 L446.25,583.17" stroke="#2a2a2a" stroke-width="0.9" fill="none"/>
<path d="M458.09,567.23 L458.09,582.8 M455.29,567.23 L460.89,567.23 M455.29,582.8 L460.89,582.8" stroke="#2a2a2a" stroke-width="0.9" fill="none"/>
<path d="M472.73,540.12 L472.73,556.61 M469.93,540.12 L475.53,540.12 M469.93,556.61 L475.53,556.61" stroke="#2a2a2a" stroke-width="0.9" fill="none"/>
<path d="M487.37,593.24 L487.37,608.81 M484.56,593.24 L490.17,593.24 M484.56,608.81 L490.17,608.81" stroke="#2a2a2a" stroke-width="0.9" fill="none"/>
<path d="M502.01,560.27 L502.01,576.76 M499.21,560.27 L504.81,560.27 M499.21,576.76 L504.81,576.76" stroke="#2a2a2a" stroke-width="0.9" fill="none"/>
<path d="M516.64,539.21 L516.64,555.14 M513.85,539.21 L519.44,539.21 M513.85,555.14 L519.44,555.14" stroke="#2a2a2a" stroke-width="0.9" fill="none"/>
<path d="M553.6,527.3 L553.6,637.2 L685,637.2" stroke="#3a3a3a" stroke-width="1.05" fill="none"/>
<path d="M551.3,637.2 L553.6,637.2" stroke="#3a3a3a" stroke-width="0.9"/>
<text x="549.3" y="639.5" font-size="6.7" fill="#2a2a2a" stroke="#2a2a2a" stroke-width="0.17" text-anchor="end">37</text>
<path d="M552.3,628.04 L553.6,628.04" stroke="#3a3a3a" stroke-width="0.8"/>
<path d="M551.3,618.88 L553.6,618.88" stroke="#3a3a3a" stroke-width="0.9"/>
<text x="549.3" y="621.18" font-size="6.7" fill="#2a2a2a" stroke="#2a2a2a" stroke-width="0.17" text-anchor="end">38</text>
<path d="M552.3,609.73 L553.6,609.73" stroke="#3a3a3a" stroke-width="0.8"/>
<path d="M551.3,600.57 L553.6,600.57" stroke="#3a3a3a" stroke-width="0.9"/>
<text x="549.3" y="602.87" font-size="6.7" fill="#2a2a2a" stroke="#2a2a2a" stroke-width="0.17" text-anchor="end">39</text>
<path d="M552.3,591.41 L553.6,591.41" stroke="#3a3a3a" stroke-width="0.8"/>
<path d="M551.3,582.25 L553.6,582.25" stroke="#3a3a3a" stroke-width="0.9"/>
<text x="549.3" y="584.55" font-size="6.7" fill="#2a2a2a" stroke="#2a2a2a" stroke-width="0.17" text-anchor="end">40</text>
<path d="M552.3,573.09 L553.6,573.09" stroke="#3a3a3a" stroke-width="0.8"/>
<path d="M551.3,563.93 L553.6,563.93" stroke="#3a3a3a" stroke-width="0.9"/>
<text x="549.3" y="566.23" font-size="6.7" fill="#2a2a2a" stroke="#2a2a2a" stroke-width="0.17" text-anchor="end">41</text>
<path d="M552.3,554.78 L553.6,554.78" stroke="#3a3a3a" stroke-width="0.8"/>
<path d="M551.3,545.62 L553.6,545.62" stroke="#3a3a3a" stroke-width="0.9"/>
<text x="549.3" y="547.92" font-size="6.7" fill="#2a2a2a" stroke="#2a2a2a" stroke-width="0.17" text-anchor="end">42</text>
<path d="M552.3,536.46 L553.6,536.46" stroke="#3a3a3a" stroke-width="0.8"/>
<path d="M551.3,527.3 L553.6,527.3" stroke="#3a3a3a" stroke-width="0.9"/>
<text x="549.3" y="529.6" font-size="6.7" fill="#2a2a2a" stroke="#2a2a2a" stroke-width="0.17" text-anchor="end">43</text>
<text transform="translate(540.6,582.75) rotate(-90)" font-size="7.75" fill="#1a1a1a" stroke="#1a1a1a" stroke-width="0.25" text-anchor="middle">mAP</text>
<rect x="555.35" y="587.65" width="9.55" height="49.55" fill="#6fa8d2" stroke="#2a3e52" stroke-width="0.9"/>
<rect x="570.09" y="566.76" width="9.55" height="70.44" fill="#a9d8ea" stroke="#2f4650" stroke-width="0.9"/>
<rect x="584.83" y="558.89" width="9.55" height="78.31" fill="#dff1f8" stroke="#9aa6aa" stroke-width="0.9"/>
<rect x="599.57" y="588.56" width="9.55" height="48.64" fill="#f4e598" stroke="#4a4530" stroke-width="0.9"/>
<rect x="614.31" y="580.87" width="9.55" height="56.33" fill="#f9b97d" stroke="#4d3a2a" stroke-width="0.9"/>
<rect x="629.05" y="584.9" width="9.55" height="52.3" fill="#f78b77" stroke="#5e3e38" stroke-width="0.9"/>
<rect x="643.79" y="626.66" width="9.55" height="10.54" fill="#d96b8b" stroke="#4a2a35" stroke-width="0.9"/>
<rect x="658.53" y="589.48" width="9.55" height="47.72" fill="#a85a9c" stroke="#3a2040" stroke-width="0.9"/>
<rect x="673.27" y="550.1" width="9.55" height="87.1" fill="#5a4fa3" stroke="#221c45" stroke-width="0.9"/>
<path d="M589.61,548.05 L589.61,532.2 L678.04,532.2 L678.04,539.25" stroke="#505050" stroke-width="1.05" fill="none"/>
<text x="633.83" y="531.3" font-size="8" fill="#1a1a1a" stroke="#1a1a1a" stroke-width="0.2" text-anchor="middle" letter-spacing="0.8">***</text>
<path d="M560.12,580.05 L560.12,594.16 M557.33,580.05 L562.92,580.05 M557.33,594.16 L562.92,594.16" stroke="#2a2a2a" stroke-width="0.9" fill="none"/>
<path d="M574.87,558.44 L574.87,574.01 M572.07,558.44 L577.66,558.44 M572.07,574.01 L577.66,574.01" stroke="#2a2a2a" stroke-width="0.9" fill="none"/>
<path d="M589.61,550.75 L589.61,566.13 M586.81,550.75 L592.4,550.75 M586.81,566.13 L592.4,566.13" stroke="#2a2a2a" stroke-width="0.9" fill="none"/>
<path d="M604.35,580.05 L604.35,595.99 M601.55,580.05 L607.14,580.05 M601.55,595.99 L607.14,595.99" stroke="#2a2a2a" stroke-width="0.9" fill="none"/>
<path d="M619.09,573.09 L619.09,587.75 M616.29,573.09 L621.88,573.09 M616.29,587.75 L621.88,587.75" stroke="#2a2a2a" stroke-width="0.9" fill="none"/>
<path d="M633.83,576.76 L633.83,592.32 M631.03,576.76 L636.62,576.76 M631.03,592.32 L636.62,592.32" stroke="#2a2a2a" stroke-width="0.9" fill="none"/>
<path d="M648.56,619.8 L648.56,632.62 M645.76,619.8 L651.36,619.8 M645.76,632.62 L651.36,632.62" stroke="#2a2a2a" stroke-width="0.9" fill="none"/>
<path d="M663.3,581.33 L663.3,596.9 M660.5,581.33 L666.1,581.33 M660.5,596.9 L666.1,596.9" stroke="#2a2a2a" stroke-width="0.9" fill="none"/>
<path d="M678.04,541.95 L678.04,556.97 M675.25,541.95 L680.84,541.95 M675.25,556.97 L680.84,556.97" stroke="#2a2a2a" stroke-width="0.9" fill="none"/>
<rect x="1.15" y="646.7" width="9.4" height="9.6" rx="2.2" fill="#6fa8d2" stroke="#222" stroke-width="0.9"/>
<text x="12.4" y="655" font-size="7.55" fill="#222" stroke="#222" stroke-width="0.19">ImageNet1k-DINO</text>
<rect x="84.45" y="646.7" width="9.4" height="9.6" rx="2.2" fill="#a9d8ea" stroke="#222" stroke-width="0.9"/>
<text x="96.4" y="655" font-size="7.55" fill="#222" stroke="#222" stroke-width="0.19">ImageNet1k-MAE</text>
<rect x="165.95" y="646.7" width="9.4" height="9.6" rx="2.2" fill="#dff1f8" stroke="#222" stroke-width="0.9"/>
<text x="177.3" y="655" font-size="7.55" fill="#222" stroke="#222" stroke-width="0.19">ImageNet1k-Supervised</text>
<rect x="269.45" y="646.7" width="9.4" height="9.6" rx="2.2" fill="#f4e598" stroke="#222" stroke-width="0.9"/>
<text x="281.3" y="655" font-size="7.55" fill="#222" stroke="#222" stroke-width="0.19">K400-VideoMAE</text>
<rect x="347.25" y="646.7" width="9.4" height="9.6" rx="2.2" fill="#f9b97d" stroke="#222" stroke-width="0.9"/>
<text x="359.1" y="655" font-size="7.55" fill="#222" stroke="#222" stroke-width="0.19">Hybrid1M-VideoMAE</text>
<rect x="439.45" y="646.7" width="9.4" height="9.6" rx="2.2" fill="#f78b77" stroke="#222" stroke-width="0.9"/>
<text x="451.4" y="655" font-size="7.55" fill="#222" stroke="#222" stroke-width="0.19">SSv2-VideoMAE</text>
<rect x="518.55" y="646.7" width="9.4" height="9.6" rx="2.2" fill="#d96b8b" stroke="#222" stroke-width="0.9"/>
<text x="530.6" y="655" font-size="7.55" fill="#222" stroke="#222" stroke-width="0.19">K710-UMT</text>
<rect x="576.35" y="646.7" width="9.4" height="9.6" rx="2.2" fill="#a85a9c" stroke="#222" stroke-width="0.9"/>
<text x="587.6" y="655" font-size="7.55" fill="#222" stroke="#222" stroke-width="0.19">K400-MVD</text>
<rect x="635.05" y="646.7" width="9.4" height="9.6" rx="2.2" fill="#5a4fa3" stroke="#222" stroke-width="0.9"/>
<text x="646.4" y="655" font-size="7.55" fill="#222" stroke="#222" stroke-width="0.19">SurgVISTA</text>
</svg></body></html>
